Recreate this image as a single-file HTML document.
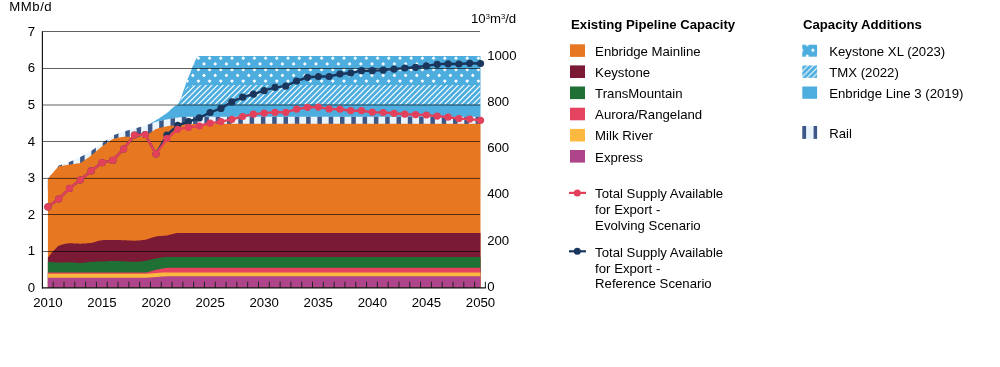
<!DOCTYPE html>
<html><head><meta charset="utf-8"><style>
html,body{margin:0;padding:0;background:#fff;width:1000px;height:367px;overflow:hidden;position:relative;font-family:"Liberation Sans",sans-serif}
</style></head><body>
<svg width="1000" height="367" viewBox="0 0 1000 367" style="position:absolute;left:0;top:0;will-change:transform"><defs><pattern id="dots" patternUnits="userSpaceOnUse" x="8" y="0.95" width="11.2" height="11.45"><rect width="11.2" height="11.45" fill="#4CADDE"/><path d="M-1.8,0 L0,-1.8 L1.8,0 L0,1.8 Z" fill="#fff"/><path d="M9.399999999999999,0 L11.2,-1.8 L13.0,0 L11.2,1.8 Z" fill="#fff"/><path d="M-1.8,11.45 L0,9.649999999999999 L1.8,11.45 L0,13.25 Z" fill="#fff"/><path d="M9.399999999999999,11.45 L11.2,9.649999999999999 L13.0,11.45 L11.2,13.25 Z" fill="#fff"/><path d="M3.8,5.725 L5.6,3.925 L7.3999999999999995,5.725 L5.6,7.5249999999999995 Z" fill="#fff"/></pattern><pattern id="hatch" patternUnits="userSpaceOnUse" width="5.6" height="5.6"><rect width="5.6" height="5.6" fill="#4CADDE"/><path d="M-1.4,1.4 L1.4,-1.4 M0,5.6 L5.6,0 M4.2,7 L7,4.2" stroke="#fff" stroke-width="1.1"/></pattern><pattern id="rail" patternUnits="userSpaceOnUse" x="1.0" y="0" width="11.3" height="20"><rect width="11.3" height="20" fill="#EAF4FC"/><rect width="4.5" height="20" fill="#3D5888"/></pattern><pattern id="dots2" patternUnits="userSpaceOnUse" x="807.3" y="44.6" width="11.2" height="11.45"><rect width="11.2" height="11.45" fill="#4CADDE"/><path d="M-1.8,0 L0,-1.8 L1.8,0 L0,1.8 Z" fill="#fff"/><path d="M9.399999999999999,0 L11.2,-1.8 L13.0,0 L11.2,1.8 Z" fill="#fff"/><path d="M-1.8,11.45 L0,9.649999999999999 L1.8,11.45 L0,13.25 Z" fill="#fff"/><path d="M9.399999999999999,11.45 L11.2,9.649999999999999 L13.0,11.45 L11.2,13.25 Z" fill="#fff"/><path d="M3.8,5.725 L5.6,3.925 L7.3999999999999995,5.725 L5.6,7.5249999999999995 Z" fill="#fff"/></pattern></defs><defs><clipPath id="cKXL"><polygon points="47.9,179.0 48.9,177.7 49.9,176.4 50.8,175.1 51.8,173.9 52.8,172.6 53.8,171.4 54.8,170.2 55.8,169.0 56.7,167.9 57.7,166.8 58.7,165.7 59.7,165.3 60.7,164.9 61.7,164.5 62.6,164.2 63.6,163.9 64.6,163.6 65.6,163.3 66.6,163.0 67.6,162.7 68.5,162.3 69.5,162.0 70.5,161.6 71.5,161.1 72.5,160.7 73.5,160.2 74.4,159.8 75.4,159.3 76.4,158.9 77.4,158.4 78.4,157.9 79.4,157.5 80.3,157.0 81.3,156.5 82.3,155.9 83.3,155.4 84.3,154.9 85.3,154.3 86.2,153.8 87.2,153.2 88.2,152.7 89.2,152.1 90.2,151.6 91.2,151.0 92.1,150.3 93.1,149.6 94.1,148.9 95.1,148.2 96.1,147.5 97.1,146.8 98.0,146.1 99.0,145.4 100.0,144.7 101.0,144.0 102.0,143.3 103.0,142.6 103.9,141.9 104.9,141.2 105.9,140.5 106.9,139.7 107.9,139.0 108.9,138.3 109.8,137.6 110.8,136.9 111.8,136.3 112.8,135.6 113.8,135.2 114.8,134.8 115.7,134.4 116.7,134.1 117.7,133.7 118.7,133.3 119.7,133.0 120.7,132.6 121.6,132.3 122.6,131.9 123.6,131.6 124.6,131.3 125.6,131.0 126.6,130.7 127.5,130.5 128.5,130.2 129.5,129.9 130.5,129.6 131.5,129.3 132.5,129.1 133.4,128.8 134.4,128.5 135.4,128.2 136.4,128.0 137.4,127.7 138.4,127.5 139.3,127.2 140.3,126.9 141.3,126.7 142.3,126.4 143.3,126.1 144.3,125.9 145.2,125.6 146.2,125.2 147.2,124.8 148.2,124.4 149.2,123.9 150.2,123.4 151.1,122.9 152.1,122.4 153.1,121.9 154.1,121.3 155.1,120.8 156.0,120.2 157.0,119.6 158.0,119.0 159.0,118.4 160.0,117.7 161.0,117.1 161.9,116.4 162.9,115.8 163.9,115.1 164.9,114.4 165.9,113.7 166.9,113.0 167.8,112.3 168.8,111.4 169.8,110.5 170.8,109.6 171.8,108.6 172.8,107.7 173.7,106.9 174.7,106.2 175.7,105.6 176.7,105.2 177.7,105.0 178.7,103.3 179.6,101.3 180.6,98.9 181.6,96.3 182.6,93.5 183.6,90.6 184.6,87.7 185.5,84.8 186.5,82.0 187.5,79.4 188.5,77.0 189.5,74.7 190.5,72.2 191.4,69.7 192.4,67.1 193.4,64.7 194.4,62.4 195.4,60.3 196.4,58.6 197.3,57.3 198.3,56.4 199.3,56.1 200.3,56.1 201.3,56.1 202.3,56.1 203.2,56.1 204.2,56.1 205.2,56.1 206.2,56.1 207.2,56.1 208.2,56.1 209.1,56.1 210.1,56.1 211.1,56.1 212.1,56.1 213.1,56.1 214.1,56.1 215.0,56.1 216.0,56.1 217.0,56.1 218.0,56.1 219.0,56.1 220.0,56.1 220.9,56.1 221.9,56.1 222.9,56.1 223.9,56.1 224.9,56.1 225.9,56.1 226.8,56.1 227.8,56.1 228.8,56.1 229.8,56.1 230.8,56.1 231.8,56.1 232.7,56.1 233.7,56.1 234.7,56.1 235.7,56.1 236.7,56.1 237.7,56.1 238.6,56.1 239.6,56.1 240.6,56.1 241.6,56.1 242.6,56.1 243.6,56.1 244.5,56.1 245.5,56.1 246.5,56.1 247.5,56.1 248.5,56.1 249.5,56.1 250.4,56.1 251.4,56.1 252.4,56.1 253.4,56.1 254.4,56.1 255.4,56.1 256.3,56.1 257.3,56.1 258.3,56.1 259.3,56.1 260.3,56.1 261.3,56.1 262.2,56.1 263.2,56.1 264.2,56.1 265.2,56.1 266.2,56.1 267.1,56.1 268.1,56.1 269.1,56.1 270.1,56.1 271.1,56.1 272.1,56.1 273.0,56.1 274.0,56.1 275.0,56.1 276.0,56.1 277.0,56.1 278.0,56.1 278.9,56.1 279.9,56.1 280.9,56.1 281.9,56.1 282.9,56.1 283.9,56.1 284.8,56.1 285.8,56.1 286.8,56.1 287.8,56.1 288.8,56.1 289.8,56.1 290.7,56.1 291.7,56.1 292.7,56.1 293.7,56.1 294.7,56.1 295.7,56.1 296.6,56.1 297.6,56.1 298.6,56.1 299.6,56.1 300.6,56.1 301.6,56.1 302.5,56.1 303.5,56.1 304.5,56.1 305.5,56.1 306.5,56.1 307.5,56.1 308.4,56.1 309.4,56.1 310.4,56.1 311.4,56.1 312.4,56.1 313.4,56.1 314.3,56.1 315.3,56.1 316.3,56.1 317.3,56.1 318.3,56.1 319.3,56.1 320.2,56.1 321.2,56.1 322.2,56.1 323.2,56.1 324.2,56.1 325.2,56.1 326.1,56.1 327.1,56.1 328.1,56.1 329.1,56.1 330.1,56.1 331.1,56.1 332.0,56.1 333.0,56.1 334.0,56.1 335.0,56.1 336.0,56.1 337.0,56.1 337.9,56.1 338.9,56.1 339.9,56.1 340.9,56.1 341.9,56.1 342.9,56.1 343.8,56.1 344.8,56.1 345.8,56.1 346.8,56.1 347.8,56.1 348.8,56.1 349.7,56.1 350.7,56.1 351.7,56.1 352.7,56.1 353.7,56.1 354.7,56.1 355.6,56.1 356.6,56.1 357.6,56.1 358.6,56.1 359.6,56.1 360.6,56.1 361.5,56.1 362.5,56.1 363.5,56.1 364.5,56.1 365.5,56.1 366.5,56.1 367.4,56.1 368.4,56.1 369.4,56.1 370.4,56.1 371.4,56.1 372.3,56.1 373.3,56.1 374.3,56.1 375.3,56.1 376.3,56.1 377.3,56.1 378.2,56.1 379.2,56.1 380.2,56.1 381.2,56.1 382.2,56.1 383.2,56.1 384.1,56.1 385.1,56.1 386.1,56.1 387.1,56.1 388.1,56.1 389.1,56.1 390.0,56.1 391.0,56.1 392.0,56.1 393.0,56.1 394.0,56.1 395.0,56.1 395.9,56.1 396.9,56.1 397.9,56.1 398.9,56.1 399.9,56.1 400.9,56.1 401.8,56.1 402.8,56.1 403.8,56.1 404.8,56.1 405.8,56.1 406.8,56.1 407.7,56.1 408.7,56.1 409.7,56.1 410.7,56.1 411.7,56.1 412.7,56.1 413.6,56.1 414.6,56.1 415.6,56.1 416.6,56.1 417.6,56.1 418.6,56.1 419.5,56.1 420.5,56.1 421.5,56.1 422.5,56.1 423.5,56.1 424.5,56.1 425.4,56.1 426.4,56.1 427.4,56.1 428.4,56.1 429.4,56.1 430.4,56.1 431.3,56.1 432.3,56.1 433.3,56.1 434.3,56.1 435.3,56.1 436.3,56.1 437.2,56.1 438.2,56.1 439.2,56.1 440.2,56.1 441.2,56.1 442.2,56.1 443.1,56.1 444.1,56.1 445.1,56.1 446.1,56.1 447.1,56.1 448.1,56.1 449.0,56.1 450.0,56.1 451.0,56.1 452.0,56.1 453.0,56.1 454.0,56.1 454.9,56.1 455.9,56.1 456.9,56.1 457.9,56.1 458.9,56.1 459.9,56.1 460.8,56.1 461.8,56.1 462.8,56.1 463.8,56.1 464.8,56.1 465.8,56.1 466.7,56.1 467.7,56.1 468.7,56.1 469.7,56.1 470.7,56.1 471.7,56.1 472.6,56.1 473.6,56.1 474.6,56.1 475.6,56.1 476.6,56.1 477.6,56.1 478.5,56.1 479.5,56.1 480.5,56.1 480.5,86.0 479.5,86.0 478.5,86.0 477.6,86.0 476.6,86.0 475.6,86.0 474.6,86.0 473.6,86.0 472.6,86.0 471.7,86.0 470.7,86.0 469.7,86.0 468.7,86.0 467.7,86.0 466.7,86.0 465.8,86.0 464.8,86.0 463.8,86.0 462.8,86.0 461.8,86.0 460.8,86.0 459.9,86.0 458.9,86.0 457.9,86.0 456.9,86.0 455.9,86.0 454.9,86.0 454.0,86.0 453.0,86.0 452.0,86.0 451.0,86.0 450.0,86.0 449.0,86.0 448.1,86.0 447.1,86.0 446.1,86.0 445.1,86.0 444.1,86.0 443.1,86.0 442.2,86.0 441.2,86.0 440.2,86.0 439.2,86.0 438.2,86.0 437.2,86.0 436.3,86.0 435.3,86.0 434.3,86.0 433.3,86.0 432.3,86.0 431.3,86.0 430.4,86.0 429.4,86.0 428.4,86.0 427.4,86.0 426.4,86.0 425.4,86.0 424.5,86.0 423.5,86.0 422.5,86.0 421.5,86.0 420.5,86.0 419.5,86.0 418.6,86.0 417.6,86.0 416.6,86.0 415.6,86.0 414.6,86.0 413.6,86.0 412.7,86.0 411.7,86.0 410.7,86.0 409.7,86.0 408.7,86.0 407.7,86.0 406.8,86.0 405.8,86.0 404.8,86.0 403.8,86.0 402.8,86.0 401.8,86.0 400.9,86.0 399.9,86.0 398.9,86.0 397.9,86.0 396.9,86.0 395.9,86.0 395.0,86.0 394.0,86.0 393.0,86.0 392.0,86.0 391.0,86.0 390.0,86.0 389.1,86.0 388.1,86.0 387.1,86.0 386.1,86.0 385.1,86.0 384.1,86.0 383.2,86.0 382.2,86.0 381.2,86.0 380.2,86.0 379.2,86.0 378.2,86.0 377.3,86.0 376.3,86.0 375.3,86.0 374.3,86.0 373.3,86.0 372.3,86.0 371.4,86.0 370.4,86.0 369.4,86.0 368.4,86.0 367.4,86.0 366.5,86.0 365.5,86.0 364.5,86.0 363.5,86.0 362.5,86.0 361.5,86.0 360.6,86.0 359.6,86.0 358.6,86.0 357.6,86.0 356.6,86.0 355.6,86.0 354.7,86.0 353.7,86.0 352.7,86.0 351.7,86.0 350.7,86.0 349.7,86.0 348.8,86.0 347.8,86.0 346.8,86.0 345.8,86.0 344.8,86.0 343.8,86.0 342.9,86.0 341.9,86.0 340.9,86.0 339.9,86.0 338.9,86.0 337.9,86.0 337.0,86.0 336.0,86.0 335.0,86.0 334.0,86.0 333.0,86.0 332.0,86.0 331.1,86.0 330.1,86.0 329.1,86.0 328.1,86.0 327.1,86.0 326.1,86.0 325.2,86.0 324.2,86.0 323.2,86.0 322.2,86.0 321.2,86.0 320.2,86.0 319.3,86.0 318.3,86.0 317.3,86.0 316.3,86.0 315.3,86.0 314.3,86.0 313.4,86.0 312.4,86.0 311.4,86.0 310.4,86.0 309.4,86.0 308.4,86.0 307.5,86.0 306.5,86.0 305.5,86.0 304.5,86.0 303.5,86.0 302.5,86.0 301.6,86.0 300.6,86.0 299.6,86.0 298.6,86.0 297.6,86.0 296.6,86.0 295.7,86.0 294.7,86.0 293.7,86.0 292.7,86.0 291.7,86.0 290.7,86.0 289.8,86.0 288.8,86.0 287.8,86.0 286.8,86.0 285.8,86.0 284.8,86.0 283.9,86.0 282.9,86.0 281.9,86.0 280.9,86.0 279.9,86.0 278.9,86.0 278.0,86.0 277.0,86.0 276.0,86.0 275.0,86.0 274.0,86.0 273.0,86.0 272.1,86.0 271.1,86.0 270.1,86.0 269.1,86.0 268.1,86.0 267.1,86.0 266.2,86.0 265.2,86.0 264.2,86.0 263.2,86.0 262.2,86.0 261.3,86.0 260.3,86.0 259.3,86.0 258.3,86.0 257.3,86.0 256.3,86.0 255.4,86.0 254.4,86.0 253.4,86.0 252.4,86.0 251.4,86.0 250.4,86.0 249.5,86.0 248.5,86.0 247.5,86.0 246.5,86.0 245.5,86.0 244.5,86.0 243.6,86.0 242.6,86.0 241.6,86.0 240.6,86.0 239.6,86.0 238.6,86.0 237.7,86.0 236.7,86.0 235.7,86.0 234.7,86.0 233.7,86.0 232.7,86.0 231.8,86.0 230.8,86.0 229.8,86.0 228.8,86.0 227.8,86.0 226.8,86.0 225.9,86.0 224.9,86.0 223.9,86.0 222.9,86.0 221.9,86.0 220.9,86.0 220.0,86.0 219.0,86.0 218.0,86.0 217.0,86.0 216.0,86.0 215.0,86.0 214.1,86.0 213.1,86.0 212.1,86.0 211.1,86.0 210.1,86.0 209.1,86.0 208.2,86.0 207.2,86.0 206.2,86.0 205.2,86.0 204.2,86.1 203.2,86.1 202.3,86.1 201.3,86.1 200.3,86.2 199.3,86.2 198.3,86.2 197.3,86.3 196.4,86.4 195.4,86.4 194.4,86.5 193.4,86.6 192.4,86.8 191.4,86.9 190.5,87.1 189.5,87.3 188.5,87.5 187.5,88.0 186.5,89.1 185.5,90.5 184.6,92.3 183.6,94.4 182.6,96.5 181.6,98.7 180.6,100.8 179.6,102.4 178.7,103.9 177.7,105.0 176.7,105.2 175.7,105.6 174.7,106.2 173.7,106.9 172.8,107.7 171.8,108.6 170.8,109.6 169.8,110.5 168.8,111.4 167.8,112.3 166.9,113.0 165.9,113.7 164.9,114.4 163.9,115.1 162.9,115.8 161.9,116.4 161.0,117.1 160.0,117.7 159.0,118.4 158.0,119.0 157.0,119.6 156.0,120.2 155.1,120.8 154.1,121.3 153.1,121.9 152.1,122.4 151.1,122.9 150.2,123.4 149.2,123.9 148.2,124.4 147.2,124.8 146.2,125.2 145.2,125.6 144.3,125.9 143.3,126.1 142.3,126.4 141.3,126.7 140.3,126.9 139.3,127.2 138.4,127.5 137.4,127.7 136.4,128.0 135.4,128.2 134.4,128.5 133.4,128.8 132.5,129.1 131.5,129.3 130.5,129.6 129.5,129.9 128.5,130.2 127.5,130.5 126.6,130.7 125.6,131.0 124.6,131.3 123.6,131.6 122.6,131.9 121.6,132.3 120.7,132.6 119.7,133.0 118.7,133.3 117.7,133.7 116.7,134.1 115.7,134.4 114.8,134.8 113.8,135.2 112.8,135.6 111.8,136.3 110.8,136.9 109.8,137.6 108.9,138.3 107.9,139.0 106.9,139.7 105.9,140.5 104.9,141.2 103.9,141.9 103.0,142.6 102.0,143.3 101.0,144.0 100.0,144.7 99.0,145.4 98.0,146.1 97.1,146.8 96.1,147.5 95.1,148.2 94.1,148.9 93.1,149.6 92.1,150.3 91.2,151.0 90.2,151.6 89.2,152.1 88.2,152.7 87.2,153.2 86.2,153.8 85.3,154.3 84.3,154.9 83.3,155.4 82.3,155.9 81.3,156.5 80.3,157.0 79.4,157.5 78.4,157.9 77.4,158.4 76.4,158.9 75.4,159.3 74.4,159.8 73.5,160.2 72.5,160.7 71.5,161.1 70.5,161.6 69.5,162.0 68.5,162.3 67.6,162.7 66.6,163.0 65.6,163.3 64.6,163.6 63.6,163.9 62.6,164.2 61.7,164.5 60.7,164.9 59.7,165.3 58.7,165.7 57.7,166.8 56.7,167.9 55.8,169.0 54.8,170.2 53.8,171.4 52.8,172.6 51.8,173.9 50.8,175.1 49.9,176.4 48.9,177.7 47.9,179.0"/></clipPath><clipPath id="cTMX"><polygon points="47.9,179.0 48.9,177.7 49.9,176.4 50.8,175.1 51.8,173.9 52.8,172.6 53.8,171.4 54.8,170.2 55.8,169.0 56.7,167.9 57.7,166.8 58.7,165.7 59.7,165.3 60.7,164.9 61.7,164.5 62.6,164.2 63.6,163.9 64.6,163.6 65.6,163.3 66.6,163.0 67.6,162.7 68.5,162.3 69.5,162.0 70.5,161.6 71.5,161.1 72.5,160.7 73.5,160.2 74.4,159.8 75.4,159.3 76.4,158.9 77.4,158.4 78.4,157.9 79.4,157.5 80.3,157.0 81.3,156.5 82.3,155.9 83.3,155.4 84.3,154.9 85.3,154.3 86.2,153.8 87.2,153.2 88.2,152.7 89.2,152.1 90.2,151.6 91.2,151.0 92.1,150.3 93.1,149.6 94.1,148.9 95.1,148.2 96.1,147.5 97.1,146.8 98.0,146.1 99.0,145.4 100.0,144.7 101.0,144.0 102.0,143.3 103.0,142.6 103.9,141.9 104.9,141.2 105.9,140.5 106.9,139.7 107.9,139.0 108.9,138.3 109.8,137.6 110.8,136.9 111.8,136.3 112.8,135.6 113.8,135.2 114.8,134.8 115.7,134.4 116.7,134.1 117.7,133.7 118.7,133.3 119.7,133.0 120.7,132.6 121.6,132.3 122.6,131.9 123.6,131.6 124.6,131.3 125.6,131.0 126.6,130.7 127.5,130.5 128.5,130.2 129.5,129.9 130.5,129.6 131.5,129.3 132.5,129.1 133.4,128.8 134.4,128.5 135.4,128.2 136.4,128.0 137.4,127.7 138.4,127.5 139.3,127.2 140.3,126.9 141.3,126.7 142.3,126.4 143.3,126.1 144.3,125.9 145.2,125.6 146.2,125.2 147.2,124.8 148.2,124.4 149.2,123.9 150.2,123.4 151.1,122.9 152.1,122.4 153.1,121.9 154.1,121.3 155.1,120.8 156.0,120.2 157.0,119.6 158.0,119.0 159.0,118.4 160.0,117.7 161.0,117.1 161.9,116.4 162.9,115.8 163.9,115.1 164.9,114.4 165.9,113.7 166.9,113.0 167.8,112.3 168.8,111.4 169.8,110.5 170.8,109.6 171.8,108.6 172.8,107.7 173.7,106.9 174.7,106.2 175.7,105.6 176.7,105.2 177.7,105.0 178.7,103.6 179.6,101.8 180.6,99.9 181.6,97.7 182.6,95.5 183.6,93.4 184.6,91.3 185.5,89.5 186.5,88.1 187.5,87.0 188.5,86.5 189.5,86.3 190.5,86.1 191.4,85.9 192.4,85.8 193.4,85.6 194.4,85.5 195.4,85.4 196.4,85.4 197.3,85.3 198.3,85.2 199.3,85.2 200.3,85.2 201.3,85.1 202.3,85.1 203.2,85.1 204.2,85.1 205.2,85.0 206.2,85.0 207.2,85.0 208.2,85.0 209.1,85.0 210.1,85.0 211.1,85.0 212.1,85.0 213.1,85.0 214.1,85.0 215.0,85.0 216.0,85.0 217.0,85.0 218.0,85.0 219.0,85.0 220.0,85.0 220.9,85.0 221.9,85.0 222.9,85.0 223.9,85.0 224.9,85.0 225.9,85.0 226.8,85.0 227.8,85.0 228.8,85.0 229.8,85.0 230.8,85.0 231.8,85.0 232.7,85.0 233.7,85.0 234.7,85.0 235.7,85.0 236.7,85.0 237.7,85.0 238.6,85.0 239.6,85.0 240.6,85.0 241.6,85.0 242.6,85.0 243.6,85.0 244.5,85.0 245.5,85.0 246.5,85.0 247.5,85.0 248.5,85.0 249.5,85.0 250.4,85.0 251.4,85.0 252.4,85.0 253.4,85.0 254.4,85.0 255.4,85.0 256.3,85.0 257.3,85.0 258.3,85.0 259.3,85.0 260.3,85.0 261.3,85.0 262.2,85.0 263.2,85.0 264.2,85.0 265.2,85.0 266.2,85.0 267.1,85.0 268.1,85.0 269.1,85.0 270.1,85.0 271.1,85.0 272.1,85.0 273.0,85.0 274.0,85.0 275.0,85.0 276.0,85.0 277.0,85.0 278.0,85.0 278.9,85.0 279.9,85.0 280.9,85.0 281.9,85.0 282.9,85.0 283.9,85.0 284.8,85.0 285.8,85.0 286.8,85.0 287.8,85.0 288.8,85.0 289.8,85.0 290.7,85.0 291.7,85.0 292.7,85.0 293.7,85.0 294.7,85.0 295.7,85.0 296.6,85.0 297.6,85.0 298.6,85.0 299.6,85.0 300.6,85.0 301.6,85.0 302.5,85.0 303.5,85.0 304.5,85.0 305.5,85.0 306.5,85.0 307.5,85.0 308.4,85.0 309.4,85.0 310.4,85.0 311.4,85.0 312.4,85.0 313.4,85.0 314.3,85.0 315.3,85.0 316.3,85.0 317.3,85.0 318.3,85.0 319.3,85.0 320.2,85.0 321.2,85.0 322.2,85.0 323.2,85.0 324.2,85.0 325.2,85.0 326.1,85.0 327.1,85.0 328.1,85.0 329.1,85.0 330.1,85.0 331.1,85.0 332.0,85.0 333.0,85.0 334.0,85.0 335.0,85.0 336.0,85.0 337.0,85.0 337.9,85.0 338.9,85.0 339.9,85.0 340.9,85.0 341.9,85.0 342.9,85.0 343.8,85.0 344.8,85.0 345.8,85.0 346.8,85.0 347.8,85.0 348.8,85.0 349.7,85.0 350.7,85.0 351.7,85.0 352.7,85.0 353.7,85.0 354.7,85.0 355.6,85.0 356.6,85.0 357.6,85.0 358.6,85.0 359.6,85.0 360.6,85.0 361.5,85.0 362.5,85.0 363.5,85.0 364.5,85.0 365.5,85.0 366.5,85.0 367.4,85.0 368.4,85.0 369.4,85.0 370.4,85.0 371.4,85.0 372.3,85.0 373.3,85.0 374.3,85.0 375.3,85.0 376.3,85.0 377.3,85.0 378.2,85.0 379.2,85.0 380.2,85.0 381.2,85.0 382.2,85.0 383.2,85.0 384.1,85.0 385.1,85.0 386.1,85.0 387.1,85.0 388.1,85.0 389.1,85.0 390.0,85.0 391.0,85.0 392.0,85.0 393.0,85.0 394.0,85.0 395.0,85.0 395.9,85.0 396.9,85.0 397.9,85.0 398.9,85.0 399.9,85.0 400.9,85.0 401.8,85.0 402.8,85.0 403.8,85.0 404.8,85.0 405.8,85.0 406.8,85.0 407.7,85.0 408.7,85.0 409.7,85.0 410.7,85.0 411.7,85.0 412.7,85.0 413.6,85.0 414.6,85.0 415.6,85.0 416.6,85.0 417.6,85.0 418.6,85.0 419.5,85.0 420.5,85.0 421.5,85.0 422.5,85.0 423.5,85.0 424.5,85.0 425.4,85.0 426.4,85.0 427.4,85.0 428.4,85.0 429.4,85.0 430.4,85.0 431.3,85.0 432.3,85.0 433.3,85.0 434.3,85.0 435.3,85.0 436.3,85.0 437.2,85.0 438.2,85.0 439.2,85.0 440.2,85.0 441.2,85.0 442.2,85.0 443.1,85.0 444.1,85.0 445.1,85.0 446.1,85.0 447.1,85.0 448.1,85.0 449.0,85.0 450.0,85.0 451.0,85.0 452.0,85.0 453.0,85.0 454.0,85.0 454.9,85.0 455.9,85.0 456.9,85.0 457.9,85.0 458.9,85.0 459.9,85.0 460.8,85.0 461.8,85.0 462.8,85.0 463.8,85.0 464.8,85.0 465.8,85.0 466.7,85.0 467.7,85.0 468.7,85.0 469.7,85.0 470.7,85.0 471.7,85.0 472.6,85.0 473.6,85.0 474.6,85.0 475.6,85.0 476.6,85.0 477.6,85.0 478.5,85.0 479.5,85.0 480.5,85.0 480.5,105.5 479.5,105.5 478.5,105.5 477.6,105.5 476.6,105.5 475.6,105.5 474.6,105.5 473.6,105.5 472.6,105.5 471.7,105.5 470.7,105.5 469.7,105.5 468.7,105.5 467.7,105.5 466.7,105.5 465.8,105.5 464.8,105.5 463.8,105.5 462.8,105.5 461.8,105.5 460.8,105.5 459.9,105.5 458.9,105.5 457.9,105.5 456.9,105.5 455.9,105.5 454.9,105.5 454.0,105.5 453.0,105.5 452.0,105.5 451.0,105.5 450.0,105.5 449.0,105.5 448.1,105.5 447.1,105.5 446.1,105.5 445.1,105.5 444.1,105.5 443.1,105.5 442.2,105.5 441.2,105.5 440.2,105.5 439.2,105.5 438.2,105.5 437.2,105.5 436.3,105.5 435.3,105.5 434.3,105.5 433.3,105.5 432.3,105.5 431.3,105.5 430.4,105.5 429.4,105.5 428.4,105.5 427.4,105.5 426.4,105.5 425.4,105.5 424.5,105.5 423.5,105.5 422.5,105.5 421.5,105.5 420.5,105.5 419.5,105.5 418.6,105.5 417.6,105.5 416.6,105.5 415.6,105.5 414.6,105.5 413.6,105.5 412.7,105.5 411.7,105.5 410.7,105.5 409.7,105.5 408.7,105.5 407.7,105.5 406.8,105.5 405.8,105.5 404.8,105.5 403.8,105.5 402.8,105.5 401.8,105.5 400.9,105.5 399.9,105.5 398.9,105.5 397.9,105.5 396.9,105.5 395.9,105.5 395.0,105.5 394.0,105.5 393.0,105.5 392.0,105.5 391.0,105.5 390.0,105.5 389.1,105.5 388.1,105.5 387.1,105.5 386.1,105.5 385.1,105.5 384.1,105.5 383.2,105.5 382.2,105.5 381.2,105.5 380.2,105.5 379.2,105.5 378.2,105.5 377.3,105.5 376.3,105.5 375.3,105.5 374.3,105.5 373.3,105.5 372.3,105.5 371.4,105.5 370.4,105.5 369.4,105.5 368.4,105.5 367.4,105.5 366.5,105.5 365.5,105.5 364.5,105.5 363.5,105.5 362.5,105.5 361.5,105.5 360.6,105.5 359.6,105.5 358.6,105.5 357.6,105.5 356.6,105.5 355.6,105.5 354.7,105.5 353.7,105.5 352.7,105.5 351.7,105.5 350.7,105.5 349.7,105.5 348.8,105.5 347.8,105.5 346.8,105.5 345.8,105.5 344.8,105.5 343.8,105.5 342.9,105.5 341.9,105.5 340.9,105.5 339.9,105.5 338.9,105.5 337.9,105.5 337.0,105.5 336.0,105.5 335.0,105.5 334.0,105.5 333.0,105.5 332.0,105.5 331.1,105.5 330.1,105.5 329.1,105.5 328.1,105.5 327.1,105.5 326.1,105.5 325.2,105.5 324.2,105.5 323.2,105.5 322.2,105.5 321.2,105.5 320.2,105.5 319.3,105.5 318.3,105.5 317.3,105.5 316.3,105.5 315.3,105.5 314.3,105.5 313.4,105.5 312.4,105.5 311.4,105.5 310.4,105.5 309.4,105.5 308.4,105.5 307.5,105.5 306.5,105.5 305.5,105.5 304.5,105.5 303.5,105.5 302.5,105.5 301.6,105.5 300.6,105.5 299.6,105.5 298.6,105.5 297.6,105.5 296.6,105.5 295.7,105.5 294.7,105.5 293.7,105.5 292.7,105.5 291.7,105.5 290.7,105.5 289.8,105.5 288.8,105.5 287.8,105.5 286.8,105.5 285.8,105.5 284.8,105.5 283.9,105.5 282.9,105.5 281.9,105.5 280.9,105.5 279.9,105.5 278.9,105.5 278.0,105.5 277.0,105.5 276.0,105.5 275.0,105.5 274.0,105.5 273.0,105.5 272.1,105.5 271.1,105.5 270.1,105.5 269.1,105.5 268.1,105.5 267.1,105.5 266.2,105.5 265.2,105.5 264.2,105.5 263.2,105.5 262.2,105.5 261.3,105.5 260.3,105.5 259.3,105.5 258.3,105.5 257.3,105.5 256.3,105.5 255.4,105.5 254.4,105.5 253.4,105.5 252.4,105.5 251.4,105.5 250.4,105.5 249.5,105.5 248.5,105.5 247.5,105.5 246.5,105.5 245.5,105.5 244.5,105.5 243.6,105.5 242.6,105.5 241.6,105.5 240.6,105.5 239.6,105.5 238.6,105.5 237.7,105.5 236.7,105.5 235.7,105.5 234.7,105.5 233.7,105.5 232.7,105.5 231.8,105.5 230.8,105.5 229.8,105.5 228.8,105.5 227.8,105.5 226.8,105.5 225.9,105.5 224.9,105.5 223.9,105.5 222.9,105.5 221.9,105.5 220.9,105.5 220.0,105.5 219.0,105.5 218.0,105.5 217.0,105.5 216.0,105.5 215.0,105.5 214.1,105.5 213.1,105.5 212.1,105.5 211.1,105.5 210.1,105.5 209.1,105.5 208.2,105.5 207.2,105.5 206.2,105.5 205.2,105.5 204.2,105.5 203.2,105.5 202.3,105.5 201.3,105.5 200.3,105.5 199.3,105.5 198.3,105.5 197.3,105.5 196.4,105.5 195.4,105.5 194.4,105.5 193.4,105.5 192.4,105.5 191.4,105.5 190.5,105.5 189.5,105.5 188.5,105.5 187.5,105.5 186.5,105.5 185.5,105.5 184.6,105.6 183.6,105.6 182.6,105.6 181.6,105.7 180.6,105.8 179.6,105.8 178.7,105.9 177.7,105.0 176.7,105.2 175.7,105.6 174.7,106.2 173.7,106.9 172.8,107.7 171.8,108.6 170.8,109.6 169.8,110.5 168.8,111.4 167.8,112.3 166.9,113.0 165.9,113.7 164.9,114.4 163.9,115.1 162.9,115.8 161.9,116.4 161.0,117.1 160.0,117.7 159.0,118.4 158.0,119.0 157.0,119.6 156.0,120.2 155.1,120.8 154.1,121.3 153.1,121.9 152.1,122.4 151.1,122.9 150.2,123.4 149.2,123.9 148.2,124.4 147.2,124.8 146.2,125.2 145.2,125.6 144.3,125.9 143.3,126.1 142.3,126.4 141.3,126.7 140.3,126.9 139.3,127.2 138.4,127.5 137.4,127.7 136.4,128.0 135.4,128.2 134.4,128.5 133.4,128.8 132.5,129.1 131.5,129.3 130.5,129.6 129.5,129.9 128.5,130.2 127.5,130.5 126.6,130.7 125.6,131.0 124.6,131.3 123.6,131.6 122.6,131.9 121.6,132.3 120.7,132.6 119.7,133.0 118.7,133.3 117.7,133.7 116.7,134.1 115.7,134.4 114.8,134.8 113.8,135.2 112.8,135.6 111.8,136.3 110.8,136.9 109.8,137.6 108.9,138.3 107.9,139.0 106.9,139.7 105.9,140.5 104.9,141.2 103.9,141.9 103.0,142.6 102.0,143.3 101.0,144.0 100.0,144.7 99.0,145.4 98.0,146.1 97.1,146.8 96.1,147.5 95.1,148.2 94.1,148.9 93.1,149.6 92.1,150.3 91.2,151.0 90.2,151.6 89.2,152.1 88.2,152.7 87.2,153.2 86.2,153.8 85.3,154.3 84.3,154.9 83.3,155.4 82.3,155.9 81.3,156.5 80.3,157.0 79.4,157.5 78.4,157.9 77.4,158.4 76.4,158.9 75.4,159.3 74.4,159.8 73.5,160.2 72.5,160.7 71.5,161.1 70.5,161.6 69.5,162.0 68.5,162.3 67.6,162.7 66.6,163.0 65.6,163.3 64.6,163.6 63.6,163.9 62.6,164.2 61.7,164.5 60.7,164.9 59.7,165.3 58.7,165.7 57.7,166.8 56.7,167.9 55.8,169.0 54.8,170.2 53.8,171.4 52.8,172.6 51.8,173.9 50.8,175.1 49.9,176.4 48.9,177.7 47.9,179.0"/></clipPath><clipPath id="cRAIL"><polygon points="47.9,179.0 48.9,177.7 49.9,176.4 50.8,175.1 51.8,173.9 52.8,172.6 53.8,171.4 54.8,170.2 55.8,169.0 56.7,167.9 57.7,166.8 58.7,165.7 59.7,165.3 60.7,164.9 61.7,164.5 62.6,164.2 63.6,163.9 64.6,163.6 65.6,163.3 66.6,163.0 67.6,162.7 68.5,162.3 69.5,162.0 70.5,161.6 71.5,161.1 72.5,160.7 73.5,160.2 74.4,159.8 75.4,159.3 76.4,158.9 77.4,158.4 78.4,157.9 79.4,157.5 80.3,157.0 81.3,156.5 82.3,155.9 83.3,155.4 84.3,154.9 85.3,154.3 86.2,153.8 87.2,153.2 88.2,152.7 89.2,152.1 90.2,151.6 91.2,151.0 92.1,150.3 93.1,149.6 94.1,148.9 95.1,148.2 96.1,147.5 97.1,146.8 98.0,146.1 99.0,145.4 100.0,144.7 101.0,144.0 102.0,143.3 103.0,142.6 103.9,141.9 104.9,141.2 105.9,140.5 106.9,139.7 107.9,139.0 108.9,138.3 109.8,137.6 110.8,136.9 111.8,136.3 112.8,135.6 113.8,135.2 114.8,134.8 115.7,134.4 116.7,134.1 117.7,133.7 118.7,133.3 119.7,133.0 120.7,132.6 121.6,132.3 122.6,131.9 123.6,131.6 124.6,131.3 125.6,131.0 126.6,130.7 127.5,130.5 128.5,130.2 129.5,129.9 130.5,129.6 131.5,129.3 132.5,129.1 133.4,128.8 134.4,128.5 135.4,128.2 136.4,128.0 137.4,127.7 138.4,127.5 139.3,127.2 140.3,126.9 141.3,126.7 142.3,126.4 143.3,126.1 144.3,125.9 145.2,125.6 146.2,125.3 147.2,124.9 148.2,124.6 149.2,124.2 150.2,123.9 151.1,123.5 152.1,123.2 153.1,122.8 154.1,122.5 155.1,122.1 156.0,121.8 157.0,121.6 158.0,121.3 159.0,121.1 160.0,120.9 161.0,120.7 161.9,120.5 162.9,120.2 163.9,120.0 164.9,119.8 165.9,119.6 166.9,119.4 167.8,119.2 168.8,119.0 169.8,118.9 170.8,118.7 171.8,118.5 172.8,118.3 173.7,118.2 174.7,118.0 175.7,117.8 176.7,117.7 177.7,117.5 178.7,117.4 179.6,117.3 180.6,117.2 181.6,117.2 182.6,117.1 183.6,117.0 184.6,116.9 185.5,116.9 186.5,116.8 187.5,116.8 188.5,116.7 189.5,116.7 190.5,116.7 191.4,116.7 192.4,116.7 193.4,116.7 194.4,116.7 195.4,116.7 196.4,116.7 197.3,116.7 198.3,116.7 199.3,116.7 200.3,116.7 201.3,116.7 202.3,116.7 203.2,116.7 204.2,116.7 205.2,116.7 206.2,116.7 207.2,116.7 208.2,116.7 209.1,116.7 210.1,116.7 211.1,116.7 212.1,116.7 213.1,116.7 214.1,116.7 215.0,116.7 216.0,116.7 217.0,116.7 218.0,116.7 219.0,116.7 220.0,116.7 220.9,116.7 221.9,116.7 222.9,116.7 223.9,116.7 224.9,116.7 225.9,116.7 226.8,116.7 227.8,116.7 228.8,116.7 229.8,116.7 230.8,116.7 231.8,116.7 232.7,116.7 233.7,116.7 234.7,116.7 235.7,116.7 236.7,116.7 237.7,116.7 238.6,116.7 239.6,116.7 240.6,116.7 241.6,116.7 242.6,116.7 243.6,116.7 244.5,116.7 245.5,116.7 246.5,116.7 247.5,116.7 248.5,116.7 249.5,116.7 250.4,116.7 251.4,116.7 252.4,116.7 253.4,116.7 254.4,116.7 255.4,116.7 256.3,116.7 257.3,116.7 258.3,116.7 259.3,116.7 260.3,116.7 261.3,116.7 262.2,116.7 263.2,116.7 264.2,116.7 265.2,116.7 266.2,116.7 267.1,116.7 268.1,116.7 269.1,116.7 270.1,116.7 271.1,116.7 272.1,116.7 273.0,116.7 274.0,116.7 275.0,116.7 276.0,116.7 277.0,116.7 278.0,116.7 278.9,116.7 279.9,116.7 280.9,116.7 281.9,116.7 282.9,116.7 283.9,116.7 284.8,116.7 285.8,116.7 286.8,116.7 287.8,116.7 288.8,116.7 289.8,116.7 290.7,116.7 291.7,116.7 292.7,116.7 293.7,116.7 294.7,116.7 295.7,116.7 296.6,116.7 297.6,116.7 298.6,116.7 299.6,116.7 300.6,116.7 301.6,116.7 302.5,116.7 303.5,116.7 304.5,116.7 305.5,116.7 306.5,116.7 307.5,116.7 308.4,116.7 309.4,116.7 310.4,116.7 311.4,116.7 312.4,116.7 313.4,116.7 314.3,116.7 315.3,116.7 316.3,116.7 317.3,116.7 318.3,116.7 319.3,116.7 320.2,116.7 321.2,116.7 322.2,116.7 323.2,116.7 324.2,116.7 325.2,116.7 326.1,116.7 327.1,116.7 328.1,116.7 329.1,116.7 330.1,116.7 331.1,116.7 332.0,116.7 333.0,116.7 334.0,116.7 335.0,116.7 336.0,116.7 337.0,116.7 337.9,116.7 338.9,116.7 339.9,116.7 340.9,116.7 341.9,116.7 342.9,116.7 343.8,116.7 344.8,116.7 345.8,116.7 346.8,116.7 347.8,116.7 348.8,116.7 349.7,116.7 350.7,116.7 351.7,116.7 352.7,116.7 353.7,116.7 354.7,116.7 355.6,116.7 356.6,116.7 357.6,116.7 358.6,116.7 359.6,116.7 360.6,116.7 361.5,116.7 362.5,116.7 363.5,116.7 364.5,116.7 365.5,116.7 366.5,116.7 367.4,116.7 368.4,116.7 369.4,116.7 370.4,116.7 371.4,116.7 372.3,116.7 373.3,116.7 374.3,116.7 375.3,116.7 376.3,116.7 377.3,116.7 378.2,116.7 379.2,116.7 380.2,116.7 381.2,116.7 382.2,116.7 383.2,116.7 384.1,116.7 385.1,116.7 386.1,116.7 387.1,116.7 388.1,116.7 389.1,116.7 390.0,116.7 391.0,116.7 392.0,116.7 393.0,116.7 394.0,116.7 395.0,116.7 395.9,116.7 396.9,116.7 397.9,116.7 398.9,116.7 399.9,116.7 400.9,116.7 401.8,116.7 402.8,116.7 403.8,116.7 404.8,116.7 405.8,116.7 406.8,116.7 407.7,116.7 408.7,116.7 409.7,116.7 410.7,116.7 411.7,116.7 412.7,116.7 413.6,116.7 414.6,116.7 415.6,116.7 416.6,116.7 417.6,116.7 418.6,116.7 419.5,116.7 420.5,116.7 421.5,116.7 422.5,116.7 423.5,116.7 424.5,116.7 425.4,116.7 426.4,116.7 427.4,116.7 428.4,116.7 429.4,116.7 430.4,116.7 431.3,116.7 432.3,116.7 433.3,116.7 434.3,116.7 435.3,116.7 436.3,116.7 437.2,116.7 438.2,116.7 439.2,116.7 440.2,116.7 441.2,116.7 442.2,116.7 443.1,116.7 444.1,116.7 445.1,116.7 446.1,116.7 447.1,116.7 448.1,116.7 449.0,116.7 450.0,116.7 451.0,116.7 452.0,116.7 453.0,116.7 454.0,116.7 454.9,116.7 455.9,116.7 456.9,116.7 457.9,116.7 458.9,116.7 459.9,116.7 460.8,116.7 461.8,116.7 462.8,116.7 463.8,116.7 464.8,116.7 465.8,116.7 466.7,116.7 467.7,116.7 468.7,116.7 469.7,116.7 470.7,116.7 471.7,116.7 472.6,116.7 473.6,116.7 474.6,116.7 475.6,116.7 476.6,116.7 477.6,116.7 478.5,116.7 479.5,116.7 480.5,116.7 480.5,287.8 47.9,287.8"/></clipPath></defs><g clip-path="url(#cKXL)"><rect x="170" y="50" width="315" height="60" fill="#4CADDE"/><path fill="#fff" d="M179.70,52.48L181.60,50.58L183.50,52.48L181.60,54.38ZM190.90,52.48L192.80,50.58L194.70,52.48L192.80,54.38ZM202.10,52.48L204.00,50.58L205.90,52.48L204.00,54.38ZM213.30,52.48L215.20,50.58L217.10,52.48L215.20,54.38ZM224.50,52.48L226.40,50.58L228.30,52.48L226.40,54.38ZM235.70,52.48L237.60,50.58L239.50,52.48L237.60,54.38ZM246.90,52.48L248.80,50.58L250.70,52.48L248.80,54.38ZM258.10,52.48L260.00,50.58L261.90,52.48L260.00,54.38ZM269.30,52.48L271.20,50.58L273.10,52.48L271.20,54.38ZM280.50,52.48L282.40,50.58L284.30,52.48L282.40,54.38ZM291.70,52.48L293.60,50.58L295.50,52.48L293.60,54.38ZM302.90,52.48L304.80,50.58L306.70,52.48L304.80,54.38ZM314.10,52.48L316.00,50.58L317.90,52.48L316.00,54.38ZM325.30,52.48L327.20,50.58L329.10,52.48L327.20,54.38ZM336.50,52.48L338.40,50.58L340.30,52.48L338.40,54.38ZM347.70,52.48L349.60,50.58L351.50,52.48L349.60,54.38ZM358.90,52.48L360.80,50.58L362.70,52.48L360.80,54.38ZM370.10,52.48L372.00,50.58L373.90,52.48L372.00,54.38ZM381.30,52.48L383.20,50.58L385.10,52.48L383.20,54.38ZM392.50,52.48L394.40,50.58L396.30,52.48L394.40,54.38ZM403.70,52.48L405.60,50.58L407.50,52.48L405.60,54.38ZM414.90,52.48L416.80,50.58L418.70,52.48L416.80,54.38ZM426.10,52.48L428.00,50.58L429.90,52.48L428.00,54.38ZM437.30,52.48L439.20,50.58L441.10,52.48L439.20,54.38ZM448.50,52.48L450.40,50.58L452.30,52.48L450.40,54.38ZM459.70,52.48L461.60,50.58L463.50,52.48L461.60,54.38ZM470.90,52.48L472.80,50.58L474.70,52.48L472.80,54.38ZM482.10,52.48L484.00,50.58L485.90,52.48L484.00,54.38ZM174.10,58.20L176.00,56.30L177.90,58.20L176.00,60.10ZM185.30,58.20L187.20,56.30L189.10,58.20L187.20,60.10ZM196.50,58.20L198.40,56.30L200.30,58.20L198.40,60.10ZM207.70,58.20L209.60,56.30L211.50,58.20L209.60,60.10ZM218.90,58.20L220.80,56.30L222.70,58.20L220.80,60.10ZM230.10,58.20L232.00,56.30L233.90,58.20L232.00,60.10ZM241.30,58.20L243.20,56.30L245.10,58.20L243.20,60.10ZM252.50,58.20L254.40,56.30L256.30,58.20L254.40,60.10ZM263.70,58.20L265.60,56.30L267.50,58.20L265.60,60.10ZM274.90,58.20L276.80,56.30L278.70,58.20L276.80,60.10ZM286.10,58.20L288.00,56.30L289.90,58.20L288.00,60.10ZM297.30,58.20L299.20,56.30L301.10,58.20L299.20,60.10ZM308.50,58.20L310.40,56.30L312.30,58.20L310.40,60.10ZM319.70,58.20L321.60,56.30L323.50,58.20L321.60,60.10ZM330.90,58.20L332.80,56.30L334.70,58.20L332.80,60.10ZM342.10,58.20L344.00,56.30L345.90,58.20L344.00,60.10ZM353.30,58.20L355.20,56.30L357.10,58.20L355.20,60.10ZM364.50,58.20L366.40,56.30L368.30,58.20L366.40,60.10ZM375.70,58.20L377.60,56.30L379.50,58.20L377.60,60.10ZM386.90,58.20L388.80,56.30L390.70,58.20L388.80,60.10ZM398.10,58.20L400.00,56.30L401.90,58.20L400.00,60.10ZM409.30,58.20L411.20,56.30L413.10,58.20L411.20,60.10ZM420.50,58.20L422.40,56.30L424.30,58.20L422.40,60.10ZM431.70,58.20L433.60,56.30L435.50,58.20L433.60,60.10ZM442.90,58.20L444.80,56.30L446.70,58.20L444.80,60.10ZM454.10,58.20L456.00,56.30L457.90,58.20L456.00,60.10ZM465.30,58.20L467.20,56.30L469.10,58.20L467.20,60.10ZM476.50,58.20L478.40,56.30L480.30,58.20L478.40,60.10ZM487.70,58.20L489.60,56.30L491.50,58.20L489.60,60.10ZM179.70,63.93L181.60,62.03L183.50,63.93L181.60,65.83ZM190.90,63.93L192.80,62.03L194.70,63.93L192.80,65.83ZM202.10,63.93L204.00,62.03L205.90,63.93L204.00,65.83ZM213.30,63.93L215.20,62.03L217.10,63.93L215.20,65.83ZM224.50,63.93L226.40,62.03L228.30,63.93L226.40,65.83ZM235.70,63.93L237.60,62.03L239.50,63.93L237.60,65.83ZM246.90,63.93L248.80,62.03L250.70,63.93L248.80,65.83ZM258.10,63.93L260.00,62.03L261.90,63.93L260.00,65.83ZM269.30,63.93L271.20,62.03L273.10,63.93L271.20,65.83ZM280.50,63.93L282.40,62.03L284.30,63.93L282.40,65.83ZM291.70,63.93L293.60,62.03L295.50,63.93L293.60,65.83ZM302.90,63.93L304.80,62.03L306.70,63.93L304.80,65.83ZM314.10,63.93L316.00,62.03L317.90,63.93L316.00,65.83ZM325.30,63.93L327.20,62.03L329.10,63.93L327.20,65.83ZM336.50,63.93L338.40,62.03L340.30,63.93L338.40,65.83ZM347.70,63.93L349.60,62.03L351.50,63.93L349.60,65.83ZM358.90,63.93L360.80,62.03L362.70,63.93L360.80,65.83ZM370.10,63.93L372.00,62.03L373.90,63.93L372.00,65.83ZM381.30,63.93L383.20,62.03L385.10,63.93L383.20,65.83ZM392.50,63.93L394.40,62.03L396.30,63.93L394.40,65.83ZM403.70,63.93L405.60,62.03L407.50,63.93L405.60,65.83ZM414.90,63.93L416.80,62.03L418.70,63.93L416.80,65.83ZM426.10,63.93L428.00,62.03L429.90,63.93L428.00,65.83ZM437.30,63.93L439.20,62.03L441.10,63.93L439.20,65.83ZM448.50,63.93L450.40,62.03L452.30,63.93L450.40,65.83ZM459.70,63.93L461.60,62.03L463.50,63.93L461.60,65.83ZM470.90,63.93L472.80,62.03L474.70,63.93L472.80,65.83ZM482.10,63.93L484.00,62.03L485.90,63.93L484.00,65.83ZM174.10,69.65L176.00,67.75L177.90,69.65L176.00,71.55ZM185.30,69.65L187.20,67.75L189.10,69.65L187.20,71.55ZM196.50,69.65L198.40,67.75L200.30,69.65L198.40,71.55ZM207.70,69.65L209.60,67.75L211.50,69.65L209.60,71.55ZM218.90,69.65L220.80,67.75L222.70,69.65L220.80,71.55ZM230.10,69.65L232.00,67.75L233.90,69.65L232.00,71.55ZM241.30,69.65L243.20,67.75L245.10,69.65L243.20,71.55ZM252.50,69.65L254.40,67.75L256.30,69.65L254.40,71.55ZM263.70,69.65L265.60,67.75L267.50,69.65L265.60,71.55ZM274.90,69.65L276.80,67.75L278.70,69.65L276.80,71.55ZM286.10,69.65L288.00,67.75L289.90,69.65L288.00,71.55ZM297.30,69.65L299.20,67.75L301.10,69.65L299.20,71.55ZM308.50,69.65L310.40,67.75L312.30,69.65L310.40,71.55ZM319.70,69.65L321.60,67.75L323.50,69.65L321.60,71.55ZM330.90,69.65L332.80,67.75L334.70,69.65L332.80,71.55ZM342.10,69.65L344.00,67.75L345.90,69.65L344.00,71.55ZM353.30,69.65L355.20,67.75L357.10,69.65L355.20,71.55ZM364.50,69.65L366.40,67.75L368.30,69.65L366.40,71.55ZM375.70,69.65L377.60,67.75L379.50,69.65L377.60,71.55ZM386.90,69.65L388.80,67.75L390.70,69.65L388.80,71.55ZM398.10,69.65L400.00,67.75L401.90,69.65L400.00,71.55ZM409.30,69.65L411.20,67.75L413.10,69.65L411.20,71.55ZM420.50,69.65L422.40,67.75L424.30,69.65L422.40,71.55ZM431.70,69.65L433.60,67.75L435.50,69.65L433.60,71.55ZM442.90,69.65L444.80,67.75L446.70,69.65L444.80,71.55ZM454.10,69.65L456.00,67.75L457.90,69.65L456.00,71.55ZM465.30,69.65L467.20,67.75L469.10,69.65L467.20,71.55ZM476.50,69.65L478.40,67.75L480.30,69.65L478.40,71.55ZM487.70,69.65L489.60,67.75L491.50,69.65L489.60,71.55ZM179.70,75.38L181.60,73.47L183.50,75.38L181.60,77.28ZM190.90,75.38L192.80,73.47L194.70,75.38L192.80,77.28ZM202.10,75.38L204.00,73.47L205.90,75.38L204.00,77.28ZM213.30,75.38L215.20,73.47L217.10,75.38L215.20,77.28ZM224.50,75.38L226.40,73.47L228.30,75.38L226.40,77.28ZM235.70,75.38L237.60,73.47L239.50,75.38L237.60,77.28ZM246.90,75.38L248.80,73.47L250.70,75.38L248.80,77.28ZM258.10,75.38L260.00,73.47L261.90,75.38L260.00,77.28ZM269.30,75.38L271.20,73.47L273.10,75.38L271.20,77.28ZM280.50,75.38L282.40,73.47L284.30,75.38L282.40,77.28ZM291.70,75.38L293.60,73.47L295.50,75.38L293.60,77.28ZM302.90,75.38L304.80,73.47L306.70,75.38L304.80,77.28ZM314.10,75.38L316.00,73.47L317.90,75.38L316.00,77.28ZM325.30,75.38L327.20,73.47L329.10,75.38L327.20,77.28ZM336.50,75.38L338.40,73.47L340.30,75.38L338.40,77.28ZM347.70,75.38L349.60,73.47L351.50,75.38L349.60,77.28ZM358.90,75.38L360.80,73.47L362.70,75.38L360.80,77.28ZM370.10,75.38L372.00,73.47L373.90,75.38L372.00,77.28ZM381.30,75.38L383.20,73.47L385.10,75.38L383.20,77.28ZM392.50,75.38L394.40,73.47L396.30,75.38L394.40,77.28ZM403.70,75.38L405.60,73.47L407.50,75.38L405.60,77.28ZM414.90,75.38L416.80,73.47L418.70,75.38L416.80,77.28ZM426.10,75.38L428.00,73.47L429.90,75.38L428.00,77.28ZM437.30,75.38L439.20,73.47L441.10,75.38L439.20,77.28ZM448.50,75.38L450.40,73.47L452.30,75.38L450.40,77.28ZM459.70,75.38L461.60,73.47L463.50,75.38L461.60,77.28ZM470.90,75.38L472.80,73.47L474.70,75.38L472.80,77.28ZM482.10,75.38L484.00,73.47L485.90,75.38L484.00,77.28ZM174.10,81.10L176.00,79.20L177.90,81.10L176.00,83.00ZM185.30,81.10L187.20,79.20L189.10,81.10L187.20,83.00ZM196.50,81.10L198.40,79.20L200.30,81.10L198.40,83.00ZM207.70,81.10L209.60,79.20L211.50,81.10L209.60,83.00ZM218.90,81.10L220.80,79.20L222.70,81.10L220.80,83.00ZM230.10,81.10L232.00,79.20L233.90,81.10L232.00,83.00ZM241.30,81.10L243.20,79.20L245.10,81.10L243.20,83.00ZM252.50,81.10L254.40,79.20L256.30,81.10L254.40,83.00ZM263.70,81.10L265.60,79.20L267.50,81.10L265.60,83.00ZM274.90,81.10L276.80,79.20L278.70,81.10L276.80,83.00ZM286.10,81.10L288.00,79.20L289.90,81.10L288.00,83.00ZM297.30,81.10L299.20,79.20L301.10,81.10L299.20,83.00ZM308.50,81.10L310.40,79.20L312.30,81.10L310.40,83.00ZM319.70,81.10L321.60,79.20L323.50,81.10L321.60,83.00ZM330.90,81.10L332.80,79.20L334.70,81.10L332.80,83.00ZM342.10,81.10L344.00,79.20L345.90,81.10L344.00,83.00ZM353.30,81.10L355.20,79.20L357.10,81.10L355.20,83.00ZM364.50,81.10L366.40,79.20L368.30,81.10L366.40,83.00ZM375.70,81.10L377.60,79.20L379.50,81.10L377.60,83.00ZM386.90,81.10L388.80,79.20L390.70,81.10L388.80,83.00ZM398.10,81.10L400.00,79.20L401.90,81.10L400.00,83.00ZM409.30,81.10L411.20,79.20L413.10,81.10L411.20,83.00ZM420.50,81.10L422.40,79.20L424.30,81.10L422.40,83.00ZM431.70,81.10L433.60,79.20L435.50,81.10L433.60,83.00ZM442.90,81.10L444.80,79.20L446.70,81.10L444.80,83.00ZM454.10,81.10L456.00,79.20L457.90,81.10L456.00,83.00ZM465.30,81.10L467.20,79.20L469.10,81.10L467.20,83.00ZM476.50,81.10L478.40,79.20L480.30,81.10L478.40,83.00ZM487.70,81.10L489.60,79.20L491.50,81.10L489.60,83.00ZM179.70,86.83L181.60,84.92L183.50,86.83L181.60,88.73ZM190.90,86.83L192.80,84.92L194.70,86.83L192.80,88.73ZM202.10,86.83L204.00,84.92L205.90,86.83L204.00,88.73ZM213.30,86.83L215.20,84.92L217.10,86.83L215.20,88.73ZM224.50,86.83L226.40,84.92L228.30,86.83L226.40,88.73ZM235.70,86.83L237.60,84.92L239.50,86.83L237.60,88.73ZM246.90,86.83L248.80,84.92L250.70,86.83L248.80,88.73ZM258.10,86.83L260.00,84.92L261.90,86.83L260.00,88.73ZM269.30,86.83L271.20,84.92L273.10,86.83L271.20,88.73ZM280.50,86.83L282.40,84.92L284.30,86.83L282.40,88.73ZM291.70,86.83L293.60,84.92L295.50,86.83L293.60,88.73ZM302.90,86.83L304.80,84.92L306.70,86.83L304.80,88.73ZM314.10,86.83L316.00,84.92L317.90,86.83L316.00,88.73ZM325.30,86.83L327.20,84.92L329.10,86.83L327.20,88.73ZM336.50,86.83L338.40,84.92L340.30,86.83L338.40,88.73ZM347.70,86.83L349.60,84.92L351.50,86.83L349.60,88.73ZM358.90,86.83L360.80,84.92L362.70,86.83L360.80,88.73ZM370.10,86.83L372.00,84.92L373.90,86.83L372.00,88.73ZM381.30,86.83L383.20,84.92L385.10,86.83L383.20,88.73ZM392.50,86.83L394.40,84.92L396.30,86.83L394.40,88.73ZM403.70,86.83L405.60,84.92L407.50,86.83L405.60,88.73ZM414.90,86.83L416.80,84.92L418.70,86.83L416.80,88.73ZM426.10,86.83L428.00,84.92L429.90,86.83L428.00,88.73ZM437.30,86.83L439.20,84.92L441.10,86.83L439.20,88.73ZM448.50,86.83L450.40,84.92L452.30,86.83L450.40,88.73ZM459.70,86.83L461.60,84.92L463.50,86.83L461.60,88.73ZM470.90,86.83L472.80,84.92L474.70,86.83L472.80,88.73ZM482.10,86.83L484.00,84.92L485.90,86.83L484.00,88.73ZM174.10,92.55L176.00,90.65L177.90,92.55L176.00,94.45ZM185.30,92.55L187.20,90.65L189.10,92.55L187.20,94.45ZM196.50,92.55L198.40,90.65L200.30,92.55L198.40,94.45ZM207.70,92.55L209.60,90.65L211.50,92.55L209.60,94.45ZM218.90,92.55L220.80,90.65L222.70,92.55L220.80,94.45ZM230.10,92.55L232.00,90.65L233.90,92.55L232.00,94.45ZM241.30,92.55L243.20,90.65L245.10,92.55L243.20,94.45ZM252.50,92.55L254.40,90.65L256.30,92.55L254.40,94.45ZM263.70,92.55L265.60,90.65L267.50,92.55L265.60,94.45ZM274.90,92.55L276.80,90.65L278.70,92.55L276.80,94.45ZM286.10,92.55L288.00,90.65L289.90,92.55L288.00,94.45ZM297.30,92.55L299.20,90.65L301.10,92.55L299.20,94.45ZM308.50,92.55L310.40,90.65L312.30,92.55L310.40,94.45ZM319.70,92.55L321.60,90.65L323.50,92.55L321.60,94.45ZM330.90,92.55L332.80,90.65L334.70,92.55L332.80,94.45ZM342.10,92.55L344.00,90.65L345.90,92.55L344.00,94.45ZM353.30,92.55L355.20,90.65L357.10,92.55L355.20,94.45ZM364.50,92.55L366.40,90.65L368.30,92.55L366.40,94.45ZM375.70,92.55L377.60,90.65L379.50,92.55L377.60,94.45ZM386.90,92.55L388.80,90.65L390.70,92.55L388.80,94.45ZM398.10,92.55L400.00,90.65L401.90,92.55L400.00,94.45ZM409.30,92.55L411.20,90.65L413.10,92.55L411.20,94.45ZM420.50,92.55L422.40,90.65L424.30,92.55L422.40,94.45ZM431.70,92.55L433.60,90.65L435.50,92.55L433.60,94.45ZM442.90,92.55L444.80,90.65L446.70,92.55L444.80,94.45ZM454.10,92.55L456.00,90.65L457.90,92.55L456.00,94.45ZM465.30,92.55L467.20,90.65L469.10,92.55L467.20,94.45ZM476.50,92.55L478.40,90.65L480.30,92.55L478.40,94.45ZM487.70,92.55L489.60,90.65L491.50,92.55L489.60,94.45ZM179.70,98.28L181.60,96.38L183.50,98.28L181.60,100.18ZM190.90,98.28L192.80,96.38L194.70,98.28L192.80,100.18ZM202.10,98.28L204.00,96.38L205.90,98.28L204.00,100.18ZM213.30,98.28L215.20,96.38L217.10,98.28L215.20,100.18ZM224.50,98.28L226.40,96.38L228.30,98.28L226.40,100.18ZM235.70,98.28L237.60,96.38L239.50,98.28L237.60,100.18ZM246.90,98.28L248.80,96.38L250.70,98.28L248.80,100.18ZM258.10,98.28L260.00,96.38L261.90,98.28L260.00,100.18ZM269.30,98.28L271.20,96.38L273.10,98.28L271.20,100.18ZM280.50,98.28L282.40,96.38L284.30,98.28L282.40,100.18ZM291.70,98.28L293.60,96.38L295.50,98.28L293.60,100.18ZM302.90,98.28L304.80,96.38L306.70,98.28L304.80,100.18ZM314.10,98.28L316.00,96.38L317.90,98.28L316.00,100.18ZM325.30,98.28L327.20,96.38L329.10,98.28L327.20,100.18ZM336.50,98.28L338.40,96.38L340.30,98.28L338.40,100.18ZM347.70,98.28L349.60,96.38L351.50,98.28L349.60,100.18ZM358.90,98.28L360.80,96.38L362.70,98.28L360.80,100.18ZM370.10,98.28L372.00,96.38L373.90,98.28L372.00,100.18ZM381.30,98.28L383.20,96.38L385.10,98.28L383.20,100.18ZM392.50,98.28L394.40,96.38L396.30,98.28L394.40,100.18ZM403.70,98.28L405.60,96.38L407.50,98.28L405.60,100.18ZM414.90,98.28L416.80,96.38L418.70,98.28L416.80,100.18ZM426.10,98.28L428.00,96.38L429.90,98.28L428.00,100.18ZM437.30,98.28L439.20,96.38L441.10,98.28L439.20,100.18ZM448.50,98.28L450.40,96.38L452.30,98.28L450.40,100.18ZM459.70,98.28L461.60,96.38L463.50,98.28L461.60,100.18ZM470.90,98.28L472.80,96.38L474.70,98.28L472.80,100.18ZM482.10,98.28L484.00,96.38L485.90,98.28L484.00,100.18ZM174.10,104.00L176.00,102.10L177.90,104.00L176.00,105.90ZM185.30,104.00L187.20,102.10L189.10,104.00L187.20,105.90ZM196.50,104.00L198.40,102.10L200.30,104.00L198.40,105.90ZM207.70,104.00L209.60,102.10L211.50,104.00L209.60,105.90ZM218.90,104.00L220.80,102.10L222.70,104.00L220.80,105.90ZM230.10,104.00L232.00,102.10L233.90,104.00L232.00,105.90ZM241.30,104.00L243.20,102.10L245.10,104.00L243.20,105.90ZM252.50,104.00L254.40,102.10L256.30,104.00L254.40,105.90ZM263.70,104.00L265.60,102.10L267.50,104.00L265.60,105.90ZM274.90,104.00L276.80,102.10L278.70,104.00L276.80,105.90ZM286.10,104.00L288.00,102.10L289.90,104.00L288.00,105.90ZM297.30,104.00L299.20,102.10L301.10,104.00L299.20,105.90ZM308.50,104.00L310.40,102.10L312.30,104.00L310.40,105.90ZM319.70,104.00L321.60,102.10L323.50,104.00L321.60,105.90ZM330.90,104.00L332.80,102.10L334.70,104.00L332.80,105.90ZM342.10,104.00L344.00,102.10L345.90,104.00L344.00,105.90ZM353.30,104.00L355.20,102.10L357.10,104.00L355.20,105.90ZM364.50,104.00L366.40,102.10L368.30,104.00L366.40,105.90ZM375.70,104.00L377.60,102.10L379.50,104.00L377.60,105.90ZM386.90,104.00L388.80,102.10L390.70,104.00L388.80,105.90ZM398.10,104.00L400.00,102.10L401.90,104.00L400.00,105.90ZM409.30,104.00L411.20,102.10L413.10,104.00L411.20,105.90ZM420.50,104.00L422.40,102.10L424.30,104.00L422.40,105.90ZM431.70,104.00L433.60,102.10L435.50,104.00L433.60,105.90ZM442.90,104.00L444.80,102.10L446.70,104.00L444.80,105.90ZM454.10,104.00L456.00,102.10L457.90,104.00L456.00,105.90ZM465.30,104.00L467.20,102.10L469.10,104.00L467.20,105.90ZM476.50,104.00L478.40,102.10L480.30,104.00L478.40,105.90ZM487.70,104.00L489.60,102.10L491.50,104.00L489.60,105.90ZM179.70,109.72L181.60,107.82L183.50,109.72L181.60,111.62ZM190.90,109.72L192.80,107.82L194.70,109.72L192.80,111.62ZM202.10,109.72L204.00,107.82L205.90,109.72L204.00,111.62ZM213.30,109.72L215.20,107.82L217.10,109.72L215.20,111.62ZM224.50,109.72L226.40,107.82L228.30,109.72L226.40,111.62ZM235.70,109.72L237.60,107.82L239.50,109.72L237.60,111.62ZM246.90,109.72L248.80,107.82L250.70,109.72L248.80,111.62ZM258.10,109.72L260.00,107.82L261.90,109.72L260.00,111.62ZM269.30,109.72L271.20,107.82L273.10,109.72L271.20,111.62ZM280.50,109.72L282.40,107.82L284.30,109.72L282.40,111.62ZM291.70,109.72L293.60,107.82L295.50,109.72L293.60,111.62ZM302.90,109.72L304.80,107.82L306.70,109.72L304.80,111.62ZM314.10,109.72L316.00,107.82L317.90,109.72L316.00,111.62ZM325.30,109.72L327.20,107.82L329.10,109.72L327.20,111.62ZM336.50,109.72L338.40,107.82L340.30,109.72L338.40,111.62ZM347.70,109.72L349.60,107.82L351.50,109.72L349.60,111.62ZM358.90,109.72L360.80,107.82L362.70,109.72L360.80,111.62ZM370.10,109.72L372.00,107.82L373.90,109.72L372.00,111.62ZM381.30,109.72L383.20,107.82L385.10,109.72L383.20,111.62ZM392.50,109.72L394.40,107.82L396.30,109.72L394.40,111.62ZM403.70,109.72L405.60,107.82L407.50,109.72L405.60,111.62ZM414.90,109.72L416.80,107.82L418.70,109.72L416.80,111.62ZM426.10,109.72L428.00,107.82L429.90,109.72L428.00,111.62ZM437.30,109.72L439.20,107.82L441.10,109.72L439.20,111.62ZM448.50,109.72L450.40,107.82L452.30,109.72L450.40,111.62ZM459.70,109.72L461.60,107.82L463.50,109.72L461.60,111.62ZM470.90,109.72L472.80,107.82L474.70,109.72L472.80,111.62ZM482.10,109.72L484.00,107.82L485.90,109.72L484.00,111.62Z"/></g><g clip-path="url(#cTMX)"><rect x="170" y="70" width="315" height="45" fill="#4CADDE"/><path d="M131.70,115L171.70,75M137.30,115L177.30,75M142.90,115L182.90,75M148.50,115L188.50,75M154.10,115L194.10,75M159.70,115L199.70,75M165.30,115L205.30,75M170.90,115L210.90,75M176.50,115L216.50,75M182.10,115L222.10,75M187.70,115L227.70,75M193.30,115L233.30,75M198.90,115L238.90,75M204.50,115L244.50,75M210.10,115L250.10,75M215.70,115L255.70,75M221.30,115L261.30,75M226.90,115L266.90,75M232.50,115L272.50,75M238.10,115L278.10,75M243.70,115L283.70,75M249.30,115L289.30,75M254.90,115L294.90,75M260.50,115L300.50,75M266.10,115L306.10,75M271.70,115L311.70,75M277.30,115L317.30,75M282.90,115L322.90,75M288.50,115L328.50,75M294.10,115L334.10,75M299.70,115L339.70,75M305.30,115L345.30,75M310.90,115L350.90,75M316.50,115L356.50,75M322.10,115L362.10,75M327.70,115L367.70,75M333.30,115L373.30,75M338.90,115L378.90,75M344.50,115L384.50,75M350.10,115L390.10,75M355.70,115L395.70,75M361.30,115L401.30,75M366.90,115L406.90,75M372.50,115L412.50,75M378.10,115L418.10,75M383.70,115L423.70,75M389.30,115L429.30,75M394.90,115L434.90,75M400.50,115L440.50,75M406.10,115L446.10,75M411.70,115L451.70,75M417.30,115L457.30,75M422.90,115L462.90,75M428.50,115L468.50,75M434.10,115L474.10,75M439.70,115L479.70,75M445.30,115L485.30,75M450.90,115L490.90,75M456.50,115L496.50,75M462.10,115L502.10,75M467.70,115L507.70,75M473.30,115L513.30,75M478.90,115L518.90,75M484.50,115L524.50,75" stroke="#fff" stroke-width="1.15" fill="none"/></g><polygon points="47.9,179.0 48.9,177.7 49.9,176.4 50.8,175.1 51.8,173.9 52.8,172.6 53.8,171.4 54.8,170.2 55.8,169.0 56.7,167.9 57.7,166.8 58.7,165.7 59.7,165.3 60.7,164.9 61.7,164.5 62.6,164.2 63.6,163.9 64.6,163.6 65.6,163.3 66.6,163.0 67.6,162.7 68.5,162.3 69.5,162.0 70.5,161.6 71.5,161.1 72.5,160.7 73.5,160.2 74.4,159.8 75.4,159.3 76.4,158.9 77.4,158.4 78.4,157.9 79.4,157.5 80.3,157.0 81.3,156.5 82.3,155.9 83.3,155.4 84.3,154.9 85.3,154.3 86.2,153.8 87.2,153.2 88.2,152.7 89.2,152.1 90.2,151.6 91.2,151.0 92.1,150.3 93.1,149.6 94.1,148.9 95.1,148.2 96.1,147.5 97.1,146.8 98.0,146.1 99.0,145.4 100.0,144.7 101.0,144.0 102.0,143.3 103.0,142.6 103.9,141.9 104.9,141.2 105.9,140.5 106.9,139.7 107.9,139.0 108.9,138.3 109.8,137.6 110.8,136.9 111.8,136.3 112.8,135.6 113.8,135.2 114.8,134.8 115.7,134.4 116.7,134.1 117.7,133.7 118.7,133.3 119.7,133.0 120.7,132.6 121.6,132.3 122.6,131.9 123.6,131.6 124.6,131.3 125.6,131.0 126.6,130.7 127.5,130.5 128.5,130.2 129.5,129.9 130.5,129.6 131.5,129.3 132.5,129.1 133.4,128.8 134.4,128.5 135.4,128.2 136.4,128.0 137.4,127.7 138.4,127.5 139.3,127.2 140.3,126.9 141.3,126.7 142.3,126.4 143.3,126.1 144.3,125.9 145.2,125.6 146.2,125.2 147.2,124.8 148.2,124.4 149.2,123.9 150.2,123.4 151.1,122.9 152.1,122.4 153.1,121.9 154.1,121.3 155.1,120.8 156.0,120.2 157.0,119.6 158.0,119.0 159.0,118.4 160.0,117.7 161.0,117.1 161.9,116.4 162.9,115.8 163.9,115.1 164.9,114.4 165.9,113.7 166.9,113.0 167.8,112.3 168.8,111.4 169.8,110.5 170.8,109.6 171.8,108.6 172.8,107.7 173.7,106.9 174.7,106.2 175.7,105.6 176.7,105.2 177.7,105.0 178.7,104.9 179.6,104.8 180.6,104.8 181.6,104.7 182.6,104.6 183.6,104.6 184.6,104.6 185.5,104.5 186.5,104.5 187.5,104.5 188.5,104.5 189.5,104.5 190.5,104.5 191.4,104.5 192.4,104.5 193.4,104.5 194.4,104.5 195.4,104.5 196.4,104.5 197.3,104.5 198.3,104.5 199.3,104.5 200.3,104.5 201.3,104.5 202.3,104.5 203.2,104.5 204.2,104.5 205.2,104.5 206.2,104.5 207.2,104.5 208.2,104.5 209.1,104.5 210.1,104.5 211.1,104.5 212.1,104.5 213.1,104.5 214.1,104.5 215.0,104.5 216.0,104.5 217.0,104.5 218.0,104.5 219.0,104.5 220.0,104.5 220.9,104.5 221.9,104.5 222.9,104.5 223.9,104.5 224.9,104.5 225.9,104.5 226.8,104.5 227.8,104.5 228.8,104.5 229.8,104.5 230.8,104.5 231.8,104.5 232.7,104.5 233.7,104.5 234.7,104.5 235.7,104.5 236.7,104.5 237.7,104.5 238.6,104.5 239.6,104.5 240.6,104.5 241.6,104.5 242.6,104.5 243.6,104.5 244.5,104.5 245.5,104.5 246.5,104.5 247.5,104.5 248.5,104.5 249.5,104.5 250.4,104.5 251.4,104.5 252.4,104.5 253.4,104.5 254.4,104.5 255.4,104.5 256.3,104.5 257.3,104.5 258.3,104.5 259.3,104.5 260.3,104.5 261.3,104.5 262.2,104.5 263.2,104.5 264.2,104.5 265.2,104.5 266.2,104.5 267.1,104.5 268.1,104.5 269.1,104.5 270.1,104.5 271.1,104.5 272.1,104.5 273.0,104.5 274.0,104.5 275.0,104.5 276.0,104.5 277.0,104.5 278.0,104.5 278.9,104.5 279.9,104.5 280.9,104.5 281.9,104.5 282.9,104.5 283.9,104.5 284.8,104.5 285.8,104.5 286.8,104.5 287.8,104.5 288.8,104.5 289.8,104.5 290.7,104.5 291.7,104.5 292.7,104.5 293.7,104.5 294.7,104.5 295.7,104.5 296.6,104.5 297.6,104.5 298.6,104.5 299.6,104.5 300.6,104.5 301.6,104.5 302.5,104.5 303.5,104.5 304.5,104.5 305.5,104.5 306.5,104.5 307.5,104.5 308.4,104.5 309.4,104.5 310.4,104.5 311.4,104.5 312.4,104.5 313.4,104.5 314.3,104.5 315.3,104.5 316.3,104.5 317.3,104.5 318.3,104.5 319.3,104.5 320.2,104.5 321.2,104.5 322.2,104.5 323.2,104.5 324.2,104.5 325.2,104.5 326.1,104.5 327.1,104.5 328.1,104.5 329.1,104.5 330.1,104.5 331.1,104.5 332.0,104.5 333.0,104.5 334.0,104.5 335.0,104.5 336.0,104.5 337.0,104.5 337.9,104.5 338.9,104.5 339.9,104.5 340.9,104.5 341.9,104.5 342.9,104.5 343.8,104.5 344.8,104.5 345.8,104.5 346.8,104.5 347.8,104.5 348.8,104.5 349.7,104.5 350.7,104.5 351.7,104.5 352.7,104.5 353.7,104.5 354.7,104.5 355.6,104.5 356.6,104.5 357.6,104.5 358.6,104.5 359.6,104.5 360.6,104.5 361.5,104.5 362.5,104.5 363.5,104.5 364.5,104.5 365.5,104.5 366.5,104.5 367.4,104.5 368.4,104.5 369.4,104.5 370.4,104.5 371.4,104.5 372.3,104.5 373.3,104.5 374.3,104.5 375.3,104.5 376.3,104.5 377.3,104.5 378.2,104.5 379.2,104.5 380.2,104.5 381.2,104.5 382.2,104.5 383.2,104.5 384.1,104.5 385.1,104.5 386.1,104.5 387.1,104.5 388.1,104.5 389.1,104.5 390.0,104.5 391.0,104.5 392.0,104.5 393.0,104.5 394.0,104.5 395.0,104.5 395.9,104.5 396.9,104.5 397.9,104.5 398.9,104.5 399.9,104.5 400.9,104.5 401.8,104.5 402.8,104.5 403.8,104.5 404.8,104.5 405.8,104.5 406.8,104.5 407.7,104.5 408.7,104.5 409.7,104.5 410.7,104.5 411.7,104.5 412.7,104.5 413.6,104.5 414.6,104.5 415.6,104.5 416.6,104.5 417.6,104.5 418.6,104.5 419.5,104.5 420.5,104.5 421.5,104.5 422.5,104.5 423.5,104.5 424.5,104.5 425.4,104.5 426.4,104.5 427.4,104.5 428.4,104.5 429.4,104.5 430.4,104.5 431.3,104.5 432.3,104.5 433.3,104.5 434.3,104.5 435.3,104.5 436.3,104.5 437.2,104.5 438.2,104.5 439.2,104.5 440.2,104.5 441.2,104.5 442.2,104.5 443.1,104.5 444.1,104.5 445.1,104.5 446.1,104.5 447.1,104.5 448.1,104.5 449.0,104.5 450.0,104.5 451.0,104.5 452.0,104.5 453.0,104.5 454.0,104.5 454.9,104.5 455.9,104.5 456.9,104.5 457.9,104.5 458.9,104.5 459.9,104.5 460.8,104.5 461.8,104.5 462.8,104.5 463.8,104.5 464.8,104.5 465.8,104.5 466.7,104.5 467.7,104.5 468.7,104.5 469.7,104.5 470.7,104.5 471.7,104.5 472.6,104.5 473.6,104.5 474.6,104.5 475.6,104.5 476.6,104.5 477.6,104.5 478.5,104.5 479.5,104.5 480.5,104.5 480.5,117.7 479.5,117.7 478.5,117.7 477.6,117.7 476.6,117.7 475.6,117.7 474.6,117.7 473.6,117.7 472.6,117.7 471.7,117.7 470.7,117.7 469.7,117.7 468.7,117.7 467.7,117.7 466.7,117.7 465.8,117.7 464.8,117.7 463.8,117.7 462.8,117.7 461.8,117.7 460.8,117.7 459.9,117.7 458.9,117.7 457.9,117.7 456.9,117.7 455.9,117.7 454.9,117.7 454.0,117.7 453.0,117.7 452.0,117.7 451.0,117.7 450.0,117.7 449.0,117.7 448.1,117.7 447.1,117.7 446.1,117.7 445.1,117.7 444.1,117.7 443.1,117.7 442.2,117.7 441.2,117.7 440.2,117.7 439.2,117.7 438.2,117.7 437.2,117.7 436.3,117.7 435.3,117.7 434.3,117.7 433.3,117.7 432.3,117.7 431.3,117.7 430.4,117.7 429.4,117.7 428.4,117.7 427.4,117.7 426.4,117.7 425.4,117.7 424.5,117.7 423.5,117.7 422.5,117.7 421.5,117.7 420.5,117.7 419.5,117.7 418.6,117.7 417.6,117.7 416.6,117.7 415.6,117.7 414.6,117.7 413.6,117.7 412.7,117.7 411.7,117.7 410.7,117.7 409.7,117.7 408.7,117.7 407.7,117.7 406.8,117.7 405.8,117.7 404.8,117.7 403.8,117.7 402.8,117.7 401.8,117.7 400.9,117.7 399.9,117.7 398.9,117.7 397.9,117.7 396.9,117.7 395.9,117.7 395.0,117.7 394.0,117.7 393.0,117.7 392.0,117.7 391.0,117.7 390.0,117.7 389.1,117.7 388.1,117.7 387.1,117.7 386.1,117.7 385.1,117.7 384.1,117.7 383.2,117.7 382.2,117.7 381.2,117.7 380.2,117.7 379.2,117.7 378.2,117.7 377.3,117.7 376.3,117.7 375.3,117.7 374.3,117.7 373.3,117.7 372.3,117.7 371.4,117.7 370.4,117.7 369.4,117.7 368.4,117.7 367.4,117.7 366.5,117.7 365.5,117.7 364.5,117.7 363.5,117.7 362.5,117.7 361.5,117.7 360.6,117.7 359.6,117.7 358.6,117.7 357.6,117.7 356.6,117.7 355.6,117.7 354.7,117.7 353.7,117.7 352.7,117.7 351.7,117.7 350.7,117.7 349.7,117.7 348.8,117.7 347.8,117.7 346.8,117.7 345.8,117.7 344.8,117.7 343.8,117.7 342.9,117.7 341.9,117.7 340.9,117.7 339.9,117.7 338.9,117.7 337.9,117.7 337.0,117.7 336.0,117.7 335.0,117.7 334.0,117.7 333.0,117.7 332.0,117.7 331.1,117.7 330.1,117.7 329.1,117.7 328.1,117.7 327.1,117.7 326.1,117.7 325.2,117.7 324.2,117.7 323.2,117.7 322.2,117.7 321.2,117.7 320.2,117.7 319.3,117.7 318.3,117.7 317.3,117.7 316.3,117.7 315.3,117.7 314.3,117.7 313.4,117.7 312.4,117.7 311.4,117.7 310.4,117.7 309.4,117.7 308.4,117.7 307.5,117.7 306.5,117.7 305.5,117.7 304.5,117.7 303.5,117.7 302.5,117.7 301.6,117.7 300.6,117.7 299.6,117.7 298.6,117.7 297.6,117.7 296.6,117.7 295.7,117.7 294.7,117.7 293.7,117.7 292.7,117.7 291.7,117.7 290.7,117.7 289.8,117.7 288.8,117.7 287.8,117.7 286.8,117.7 285.8,117.7 284.8,117.7 283.9,117.7 282.9,117.7 281.9,117.7 280.9,117.7 279.9,117.7 278.9,117.7 278.0,117.7 277.0,117.7 276.0,117.7 275.0,117.7 274.0,117.7 273.0,117.7 272.1,117.7 271.1,117.7 270.1,117.7 269.1,117.7 268.1,117.7 267.1,117.7 266.2,117.7 265.2,117.7 264.2,117.7 263.2,117.7 262.2,117.7 261.3,117.7 260.3,117.7 259.3,117.7 258.3,117.7 257.3,117.7 256.3,117.7 255.4,117.7 254.4,117.7 253.4,117.7 252.4,117.7 251.4,117.7 250.4,117.7 249.5,117.7 248.5,117.7 247.5,117.7 246.5,117.7 245.5,117.7 244.5,117.7 243.6,117.7 242.6,117.7 241.6,117.7 240.6,117.7 239.6,117.7 238.6,117.7 237.7,117.7 236.7,117.7 235.7,117.7 234.7,117.7 233.7,117.7 232.7,117.7 231.8,117.7 230.8,117.7 229.8,117.7 228.8,117.7 227.8,117.7 226.8,117.7 225.9,117.7 224.9,117.7 223.9,117.7 222.9,117.7 221.9,117.7 220.9,117.7 220.0,117.7 219.0,117.7 218.0,117.7 217.0,117.7 216.0,117.7 215.0,117.7 214.1,117.7 213.1,117.7 212.1,117.7 211.1,117.7 210.1,117.7 209.1,117.7 208.2,117.7 207.2,117.7 206.2,117.7 205.2,117.7 204.2,117.7 203.2,117.7 202.3,117.7 201.3,117.7 200.3,117.7 199.3,117.7 198.3,117.7 197.3,117.7 196.4,117.7 195.4,117.7 194.4,117.7 193.4,117.7 192.4,117.7 191.4,117.7 190.5,117.7 189.5,117.7 188.5,117.7 187.5,117.8 186.5,117.8 185.5,117.9 184.6,117.9 183.6,118.0 182.6,118.1 181.6,118.2 180.6,118.2 179.6,118.3 178.7,118.4 177.7,118.5 176.7,118.7 175.7,118.8 174.7,119.0 173.7,119.2 172.8,119.3 171.8,119.5 170.8,119.7 169.8,119.9 168.8,120.0 167.8,120.2 166.9,120.4 165.9,120.6 164.9,120.8 163.9,121.0 162.9,121.2 161.9,121.5 161.0,121.7 160.0,121.9 159.0,122.1 158.0,122.3 157.0,122.6 156.0,122.8 155.1,123.1 154.1,123.5 153.1,123.8 152.1,123.9 151.1,124.1 150.2,124.3 149.2,124.5 148.2,124.8 147.2,125.0 146.2,125.3 145.2,125.6 144.3,125.9 143.3,126.1 142.3,126.4 141.3,126.7 140.3,126.9 139.3,127.2 138.4,127.5 137.4,127.7 136.4,128.0 135.4,128.2 134.4,128.5 133.4,128.8 132.5,129.1 131.5,129.3 130.5,129.6 129.5,129.9 128.5,130.2 127.5,130.5 126.6,130.7 125.6,131.0 124.6,131.3 123.6,131.6 122.6,131.9 121.6,132.3 120.7,132.6 119.7,133.0 118.7,133.3 117.7,133.7 116.7,134.1 115.7,134.4 114.8,134.8 113.8,135.2 112.8,135.6 111.8,136.3 110.8,136.9 109.8,137.6 108.9,138.3 107.9,139.0 106.9,139.7 105.9,140.5 104.9,141.2 103.9,141.9 103.0,142.6 102.0,143.3 101.0,144.0 100.0,144.7 99.0,145.4 98.0,146.1 97.1,146.8 96.1,147.5 95.1,148.2 94.1,148.9 93.1,149.6 92.1,150.3 91.2,151.0 90.2,151.6 89.2,152.1 88.2,152.7 87.2,153.2 86.2,153.8 85.3,154.3 84.3,154.9 83.3,155.4 82.3,155.9 81.3,156.5 80.3,157.0 79.4,157.5 78.4,157.9 77.4,158.4 76.4,158.9 75.4,159.3 74.4,159.8 73.5,160.2 72.5,160.7 71.5,161.1 70.5,161.6 69.5,162.0 68.5,162.3 67.6,162.7 66.6,163.0 65.6,163.3 64.6,163.6 63.6,163.9 62.6,164.2 61.7,164.5 60.7,164.9 59.7,165.3 58.7,165.7 57.7,166.8 56.7,167.9 55.8,169.0 54.8,170.2 53.8,171.4 52.8,172.6 51.8,173.9 50.8,175.1 49.9,176.4 48.9,177.7 47.9,179.0" fill="#4CADDE"/><g clip-path="url(#cRAIL)"><rect x="40" y="110" width="450" height="80" fill="#EAF4FC"/><rect x="46.20" y="110" width="4.5" height="80" fill="#3D5888"/><rect x="57.50" y="110" width="4.5" height="80" fill="#3D5888"/><rect x="68.80" y="110" width="4.5" height="80" fill="#3D5888"/><rect x="80.10" y="110" width="4.5" height="80" fill="#3D5888"/><rect x="91.40" y="110" width="4.5" height="80" fill="#3D5888"/><rect x="102.70" y="110" width="4.5" height="80" fill="#3D5888"/><rect x="114.00" y="110" width="4.5" height="80" fill="#3D5888"/><rect x="125.30" y="110" width="4.5" height="80" fill="#3D5888"/><rect x="136.60" y="110" width="4.5" height="80" fill="#3D5888"/><rect x="147.90" y="110" width="4.5" height="80" fill="#3D5888"/><rect x="159.20" y="110" width="4.5" height="80" fill="#3D5888"/><rect x="170.50" y="110" width="4.5" height="80" fill="#3D5888"/><rect x="181.80" y="110" width="4.5" height="80" fill="#3D5888"/><rect x="193.10" y="110" width="4.5" height="80" fill="#3D5888"/><rect x="204.40" y="110" width="4.5" height="80" fill="#3D5888"/><rect x="215.70" y="110" width="4.5" height="80" fill="#3D5888"/><rect x="227.00" y="110" width="4.5" height="80" fill="#3D5888"/><rect x="238.30" y="110" width="4.5" height="80" fill="#3D5888"/><rect x="249.60" y="110" width="4.5" height="80" fill="#3D5888"/><rect x="260.90" y="110" width="4.5" height="80" fill="#3D5888"/><rect x="272.20" y="110" width="4.5" height="80" fill="#3D5888"/><rect x="283.50" y="110" width="4.5" height="80" fill="#3D5888"/><rect x="294.80" y="110" width="4.5" height="80" fill="#3D5888"/><rect x="306.10" y="110" width="4.5" height="80" fill="#3D5888"/><rect x="317.40" y="110" width="4.5" height="80" fill="#3D5888"/><rect x="328.70" y="110" width="4.5" height="80" fill="#3D5888"/><rect x="340.00" y="110" width="4.5" height="80" fill="#3D5888"/><rect x="351.30" y="110" width="4.5" height="80" fill="#3D5888"/><rect x="362.60" y="110" width="4.5" height="80" fill="#3D5888"/><rect x="373.90" y="110" width="4.5" height="80" fill="#3D5888"/><rect x="385.20" y="110" width="4.5" height="80" fill="#3D5888"/><rect x="396.50" y="110" width="4.5" height="80" fill="#3D5888"/><rect x="407.80" y="110" width="4.5" height="80" fill="#3D5888"/><rect x="419.10" y="110" width="4.5" height="80" fill="#3D5888"/><rect x="430.40" y="110" width="4.5" height="80" fill="#3D5888"/><rect x="441.70" y="110" width="4.5" height="80" fill="#3D5888"/><rect x="453.00" y="110" width="4.5" height="80" fill="#3D5888"/><rect x="464.30" y="110" width="4.5" height="80" fill="#3D5888"/><rect x="475.60" y="110" width="4.5" height="80" fill="#3D5888"/></g><polygon points="47.9,179.0 48.9,177.7 49.9,176.5 50.8,175.3 51.8,174.1 52.8,172.9 53.8,171.7 54.8,170.6 55.8,169.5 56.7,168.4 57.7,167.4 58.7,166.5 59.7,166.3 60.7,166.1 61.7,165.9 62.6,165.7 63.6,165.5 64.6,165.3 65.6,165.2 66.6,165.0 67.6,164.8 68.5,164.7 69.5,164.5 70.5,164.4 71.5,164.2 72.5,164.1 73.5,164.0 74.4,163.9 75.4,163.7 76.4,163.6 77.4,163.5 78.4,163.3 79.4,163.2 80.3,163.0 81.3,162.4 82.3,161.8 83.3,161.2 84.3,160.5 85.3,159.8 86.2,159.1 87.2,158.4 88.2,157.7 89.2,156.9 90.2,156.2 91.2,155.5 92.1,154.7 93.1,153.9 94.1,153.1 95.1,152.2 96.1,151.4 97.1,150.6 98.0,149.8 99.0,148.9 100.0,148.1 101.0,147.3 102.0,146.5 103.0,145.8 103.9,145.1 104.9,144.4 105.9,143.7 106.9,143.0 107.9,142.3 108.9,141.6 109.8,140.9 110.8,140.3 111.8,139.6 112.8,139.0 113.8,138.7 114.8,138.5 115.7,138.2 116.7,138.0 117.7,137.8 118.7,137.6 119.7,137.4 120.7,137.2 121.6,137.0 122.6,136.9 123.6,136.7 124.6,136.7 125.6,136.7 126.6,136.8 127.5,136.8 128.5,136.8 129.5,136.9 130.5,136.9 131.5,136.9 132.5,137.0 133.4,137.0 134.4,137.0 135.4,136.9 136.4,136.9 137.4,136.8 138.4,136.7 139.3,136.6 140.3,136.5 141.3,136.4 142.3,136.3 143.3,136.2 144.3,136.1 145.2,136.0 146.2,135.5 147.2,134.9 148.2,134.3 149.2,133.6 150.2,133.0 151.1,132.3 152.1,131.6 153.1,130.9 154.1,130.2 155.1,129.6 156.0,129.0 157.0,128.7 158.0,128.4 159.0,128.1 160.0,127.9 161.0,127.6 161.9,127.4 162.9,127.1 163.9,126.9 164.9,126.7 165.9,126.4 166.9,126.2 167.8,126.1 168.8,126.0 169.8,125.8 170.8,125.7 171.8,125.6 172.8,125.5 173.7,125.4 174.7,125.3 175.7,125.2 176.7,125.1 177.7,125.0 178.7,124.9 179.6,124.9 180.6,124.8 181.6,124.7 182.6,124.7 183.6,124.6 184.6,124.5 185.5,124.5 186.5,124.4 187.5,124.4 188.5,124.3 189.5,124.3 190.5,124.2 191.4,124.2 192.4,124.1 193.4,124.1 194.4,124.0 195.4,124.0 196.4,123.9 197.3,123.9 198.3,123.8 199.3,123.8 200.3,123.8 201.3,123.8 202.3,123.8 203.2,123.8 204.2,123.8 205.2,123.8 206.2,123.8 207.2,123.8 208.2,123.8 209.1,123.8 210.1,123.8 211.1,123.8 212.1,123.8 213.1,123.8 214.1,123.8 215.0,123.8 216.0,123.8 217.0,123.8 218.0,123.8 219.0,123.8 220.0,123.8 220.9,123.8 221.9,123.8 222.9,123.8 223.9,123.8 224.9,123.8 225.9,123.8 226.8,123.8 227.8,123.8 228.8,123.8 229.8,123.8 230.8,123.8 231.8,123.8 232.7,123.8 233.7,123.8 234.7,123.8 235.7,123.8 236.7,123.8 237.7,123.8 238.6,123.8 239.6,123.8 240.6,123.8 241.6,123.8 242.6,123.8 243.6,123.8 244.5,123.8 245.5,123.8 246.5,123.8 247.5,123.8 248.5,123.8 249.5,123.8 250.4,123.8 251.4,123.8 252.4,123.8 253.4,123.8 254.4,123.8 255.4,123.8 256.3,123.8 257.3,123.8 258.3,123.8 259.3,123.8 260.3,123.8 261.3,123.8 262.2,123.8 263.2,123.8 264.2,123.8 265.2,123.8 266.2,123.8 267.1,123.8 268.1,123.8 269.1,123.8 270.1,123.8 271.1,123.8 272.1,123.8 273.0,123.8 274.0,123.8 275.0,123.8 276.0,123.8 277.0,123.8 278.0,123.8 278.9,123.8 279.9,123.8 280.9,123.8 281.9,123.8 282.9,123.8 283.9,123.8 284.8,123.8 285.8,123.8 286.8,123.8 287.8,123.8 288.8,123.8 289.8,123.8 290.7,123.8 291.7,123.8 292.7,123.8 293.7,123.8 294.7,123.8 295.7,123.8 296.6,123.8 297.6,123.8 298.6,123.8 299.6,123.8 300.6,123.8 301.6,123.8 302.5,123.8 303.5,123.8 304.5,123.8 305.5,123.8 306.5,123.8 307.5,123.8 308.4,123.8 309.4,123.8 310.4,123.8 311.4,123.8 312.4,123.8 313.4,123.8 314.3,123.8 315.3,123.8 316.3,123.8 317.3,123.8 318.3,123.8 319.3,123.8 320.2,123.8 321.2,123.8 322.2,123.8 323.2,123.8 324.2,123.8 325.2,123.8 326.1,123.8 327.1,123.8 328.1,123.8 329.1,123.8 330.1,123.8 331.1,123.8 332.0,123.8 333.0,123.8 334.0,123.8 335.0,123.8 336.0,123.8 337.0,123.8 337.9,123.8 338.9,123.8 339.9,123.8 340.9,123.8 341.9,123.8 342.9,123.8 343.8,123.8 344.8,123.8 345.8,123.8 346.8,123.8 347.8,123.8 348.8,123.8 349.7,123.8 350.7,123.8 351.7,123.8 352.7,123.8 353.7,123.8 354.7,123.8 355.6,123.8 356.6,123.8 357.6,123.8 358.6,123.8 359.6,123.8 360.6,123.8 361.5,123.8 362.5,123.8 363.5,123.8 364.5,123.8 365.5,123.8 366.5,123.8 367.4,123.8 368.4,123.8 369.4,123.8 370.4,123.8 371.4,123.8 372.3,123.8 373.3,123.8 374.3,123.8 375.3,123.8 376.3,123.8 377.3,123.8 378.2,123.8 379.2,123.8 380.2,123.8 381.2,123.8 382.2,123.8 383.2,123.8 384.1,123.8 385.1,123.8 386.1,123.8 387.1,123.8 388.1,123.8 389.1,123.8 390.0,123.8 391.0,123.8 392.0,123.8 393.0,123.8 394.0,123.8 395.0,123.8 395.9,123.8 396.9,123.8 397.9,123.8 398.9,123.8 399.9,123.8 400.9,123.8 401.8,123.8 402.8,123.8 403.8,123.8 404.8,123.8 405.8,123.8 406.8,123.8 407.7,123.8 408.7,123.8 409.7,123.8 410.7,123.8 411.7,123.8 412.7,123.8 413.6,123.8 414.6,123.8 415.6,123.8 416.6,123.8 417.6,123.8 418.6,123.8 419.5,123.8 420.5,123.8 421.5,123.8 422.5,123.8 423.5,123.8 424.5,123.8 425.4,123.8 426.4,123.8 427.4,123.8 428.4,123.8 429.4,123.8 430.4,123.8 431.3,123.8 432.3,123.8 433.3,123.8 434.3,123.8 435.3,123.8 436.3,123.8 437.2,123.8 438.2,123.8 439.2,123.8 440.2,123.8 441.2,123.8 442.2,123.8 443.1,123.8 444.1,123.8 445.1,123.8 446.1,123.8 447.1,123.8 448.1,123.8 449.0,123.8 450.0,123.8 451.0,123.8 452.0,123.8 453.0,123.8 454.0,123.8 454.9,123.8 455.9,123.8 456.9,123.8 457.9,123.8 458.9,123.8 459.9,123.8 460.8,123.8 461.8,123.8 462.8,123.8 463.8,123.8 464.8,123.8 465.8,123.8 466.7,123.8 467.7,123.8 468.7,123.8 469.7,123.8 470.7,123.8 471.7,123.8 472.6,123.8 473.6,123.8 474.6,123.8 475.6,123.8 476.6,123.8 477.6,123.8 478.5,123.8 479.5,123.8 480.5,123.8 480.5,287.8 47.9,287.8" fill="#E87722"/><polygon points="47.9,257.6 48.9,256.4 49.9,255.1 50.8,253.9 51.8,252.7 52.8,251.6 53.8,250.4 54.8,249.4 55.8,248.4 56.7,247.4 57.7,246.5 58.7,245.7 59.7,245.4 60.7,245.1 61.7,244.8 62.6,244.5 63.6,244.3 64.6,244.0 65.6,243.8 66.6,243.6 67.6,243.5 68.5,243.3 69.5,243.2 70.5,243.2 71.5,243.3 72.5,243.3 73.5,243.4 74.4,243.4 75.4,243.5 76.4,243.5 77.4,243.6 78.4,243.6 79.4,243.7 80.3,243.7 81.3,243.7 82.3,243.6 83.3,243.6 84.3,243.5 85.3,243.4 86.2,243.4 87.2,243.3 88.2,243.2 89.2,243.1 90.2,243.0 91.2,242.9 92.1,242.7 93.1,242.4 94.1,242.2 95.1,241.9 96.1,241.6 97.1,241.3 98.0,241.1 99.0,240.8 100.0,240.6 101.0,240.4 102.0,240.2 103.0,240.2 103.9,240.1 104.9,240.1 105.9,240.1 106.9,240.1 107.9,240.1 108.9,240.0 109.8,240.0 110.8,240.0 111.8,240.0 112.8,240.0 113.8,240.0 114.8,240.0 115.7,240.0 116.7,240.1 117.7,240.1 118.7,240.1 119.7,240.1 120.7,240.1 121.6,240.2 122.6,240.2 123.6,240.2 124.6,240.2 125.6,240.3 126.6,240.3 127.5,240.4 128.5,240.4 129.5,240.5 130.5,240.5 131.5,240.6 132.5,240.6 133.4,240.7 134.4,240.7 135.4,240.7 136.4,240.6 137.4,240.5 138.4,240.5 139.3,240.4 140.3,240.3 141.3,240.2 142.3,240.1 143.3,240.0 144.3,239.9 145.2,239.8 146.2,239.5 147.2,239.3 148.2,238.9 149.2,238.6 150.2,238.3 151.1,237.9 152.1,237.6 153.1,237.3 154.1,236.9 155.1,236.7 156.0,236.4 157.0,236.3 158.0,236.2 159.0,236.1 160.0,236.0 161.0,236.0 161.9,235.9 162.9,235.8 163.9,235.8 164.9,235.7 165.9,235.6 166.9,235.5 167.8,235.3 168.8,235.1 169.8,234.8 170.8,234.5 171.8,234.3 172.8,234.0 173.7,233.8 174.7,233.5 175.7,233.3 176.7,233.1 177.7,233.0 178.7,233.0 179.6,233.0 180.6,233.0 181.6,233.0 182.6,233.0 183.6,233.0 184.6,233.0 185.5,233.0 186.5,233.0 187.5,233.0 188.5,233.0 189.5,233.0 190.5,233.0 191.4,233.0 192.4,233.0 193.4,233.0 194.4,233.0 195.4,233.0 196.4,233.0 197.3,233.0 198.3,233.0 199.3,233.0 200.3,233.0 201.3,233.0 202.3,233.0 203.2,233.0 204.2,233.0 205.2,233.0 206.2,233.0 207.2,233.0 208.2,233.0 209.1,233.0 210.1,233.0 211.1,233.0 212.1,233.0 213.1,233.0 214.1,233.0 215.0,233.0 216.0,233.0 217.0,233.0 218.0,233.0 219.0,233.0 220.0,233.0 220.9,233.0 221.9,233.0 222.9,233.0 223.9,233.0 224.9,233.0 225.9,233.0 226.8,233.0 227.8,233.0 228.8,233.0 229.8,233.0 230.8,233.0 231.8,233.0 232.7,233.0 233.7,233.0 234.7,233.0 235.7,233.0 236.7,233.0 237.7,233.0 238.6,233.0 239.6,233.0 240.6,233.0 241.6,233.0 242.6,233.0 243.6,233.0 244.5,233.0 245.5,233.0 246.5,233.0 247.5,233.0 248.5,233.0 249.5,233.0 250.4,233.0 251.4,233.0 252.4,233.0 253.4,233.0 254.4,233.0 255.4,233.0 256.3,233.0 257.3,233.0 258.3,233.0 259.3,233.0 260.3,233.0 261.3,233.0 262.2,233.0 263.2,233.0 264.2,233.0 265.2,233.0 266.2,233.0 267.1,233.0 268.1,233.0 269.1,233.0 270.1,233.0 271.1,233.0 272.1,233.0 273.0,233.0 274.0,233.0 275.0,233.0 276.0,233.0 277.0,233.0 278.0,233.0 278.9,233.0 279.9,233.0 280.9,233.0 281.9,233.0 282.9,233.0 283.9,233.0 284.8,233.0 285.8,233.0 286.8,233.0 287.8,233.0 288.8,233.0 289.8,233.0 290.7,233.0 291.7,233.0 292.7,233.0 293.7,233.0 294.7,233.0 295.7,233.0 296.6,233.0 297.6,233.0 298.6,233.0 299.6,233.0 300.6,233.0 301.6,233.0 302.5,233.0 303.5,233.0 304.5,233.0 305.5,233.0 306.5,233.0 307.5,233.0 308.4,233.0 309.4,233.0 310.4,233.0 311.4,233.0 312.4,233.0 313.4,233.0 314.3,233.0 315.3,233.0 316.3,233.0 317.3,233.0 318.3,233.0 319.3,233.0 320.2,233.0 321.2,233.0 322.2,233.0 323.2,233.0 324.2,233.0 325.2,233.0 326.1,233.0 327.1,233.0 328.1,233.0 329.1,233.0 330.1,233.0 331.1,233.0 332.0,233.0 333.0,233.0 334.0,233.0 335.0,233.0 336.0,233.0 337.0,233.0 337.9,233.0 338.9,233.0 339.9,233.0 340.9,233.0 341.9,233.0 342.9,233.0 343.8,233.0 344.8,233.0 345.8,233.0 346.8,233.0 347.8,233.0 348.8,233.0 349.7,233.0 350.7,233.0 351.7,233.0 352.7,233.0 353.7,233.0 354.7,233.0 355.6,233.0 356.6,233.0 357.6,233.0 358.6,233.0 359.6,233.0 360.6,233.0 361.5,233.0 362.5,233.0 363.5,233.0 364.5,233.0 365.5,233.0 366.5,233.0 367.4,233.0 368.4,233.0 369.4,233.0 370.4,233.0 371.4,233.0 372.3,233.0 373.3,233.0 374.3,233.0 375.3,233.0 376.3,233.0 377.3,233.0 378.2,233.0 379.2,233.0 380.2,233.0 381.2,233.0 382.2,233.0 383.2,233.0 384.1,233.0 385.1,233.0 386.1,233.0 387.1,233.0 388.1,233.0 389.1,233.0 390.0,233.0 391.0,233.0 392.0,233.0 393.0,233.0 394.0,233.0 395.0,233.0 395.9,233.0 396.9,233.0 397.9,233.0 398.9,233.0 399.9,233.0 400.9,233.0 401.8,233.0 402.8,233.0 403.8,233.0 404.8,233.0 405.8,233.0 406.8,233.0 407.7,233.0 408.7,233.0 409.7,233.0 410.7,233.0 411.7,233.0 412.7,233.0 413.6,233.0 414.6,233.0 415.6,233.0 416.6,233.0 417.6,233.0 418.6,233.0 419.5,233.0 420.5,233.0 421.5,233.0 422.5,233.0 423.5,233.0 424.5,233.0 425.4,233.0 426.4,233.0 427.4,233.0 428.4,233.0 429.4,233.0 430.4,233.0 431.3,233.0 432.3,233.0 433.3,233.0 434.3,233.0 435.3,233.0 436.3,233.0 437.2,233.0 438.2,233.0 439.2,233.0 440.2,233.0 441.2,233.0 442.2,233.0 443.1,233.0 444.1,233.0 445.1,233.0 446.1,233.0 447.1,233.0 448.1,233.0 449.0,233.0 450.0,233.0 451.0,233.0 452.0,233.0 453.0,233.0 454.0,233.0 454.9,233.0 455.9,233.0 456.9,233.0 457.9,233.0 458.9,233.0 459.9,233.0 460.8,233.0 461.8,233.0 462.8,233.0 463.8,233.0 464.8,233.0 465.8,233.0 466.7,233.0 467.7,233.0 468.7,233.0 469.7,233.0 470.7,233.0 471.7,233.0 472.6,233.0 473.6,233.0 474.6,233.0 475.6,233.0 476.6,233.0 477.6,233.0 478.5,233.0 479.5,233.0 480.5,233.0 480.5,287.8 47.9,287.8" fill="#7A1A34"/><polygon points="47.9,261.8 48.9,261.9 49.9,262.0 50.8,262.1 51.8,262.2 52.8,262.2 53.8,262.3 54.8,262.4 55.8,262.5 56.7,262.5 57.7,262.6 58.7,262.6 59.7,262.6 60.7,262.6 61.7,262.5 62.6,262.5 63.6,262.5 64.6,262.4 65.6,262.4 66.6,262.4 67.6,262.3 68.5,262.3 69.5,262.3 70.5,262.3 71.5,262.4 72.5,262.5 73.5,262.5 74.4,262.6 75.4,262.7 76.4,262.8 77.4,262.8 78.4,262.9 79.4,263.0 80.3,263.0 81.3,262.9 82.3,262.8 83.3,262.7 84.3,262.6 85.3,262.5 86.2,262.4 87.2,262.2 88.2,262.1 89.2,262.0 90.2,261.9 91.2,261.8 92.1,261.8 93.1,261.7 94.1,261.7 95.1,261.7 96.1,261.6 97.1,261.6 98.0,261.6 99.0,261.6 100.0,261.6 101.0,261.5 102.0,261.5 103.0,261.5 103.9,261.4 104.9,261.4 105.9,261.3 106.9,261.3 107.9,261.2 108.9,261.1 109.8,261.1 110.8,261.1 111.8,261.0 112.8,261.0 113.8,261.0 114.8,261.0 115.7,261.1 116.7,261.1 117.7,261.1 118.7,261.1 119.7,261.2 120.7,261.2 121.6,261.2 122.6,261.3 123.6,261.3 124.6,261.3 125.6,261.4 126.6,261.4 127.5,261.5 128.5,261.5 129.5,261.6 130.5,261.7 131.5,261.7 132.5,261.7 133.4,261.8 134.4,261.8 135.4,261.8 136.4,261.7 137.4,261.7 138.4,261.6 139.3,261.5 140.3,261.5 141.3,261.4 142.3,261.3 143.3,261.2 144.3,261.1 145.2,261.0 146.2,260.8 147.2,260.6 148.2,260.3 149.2,260.1 150.2,259.9 151.1,259.6 152.1,259.3 153.1,259.1 154.1,258.9 155.1,258.6 156.0,258.4 157.0,258.2 158.0,258.1 159.0,257.9 160.0,257.8 161.0,257.6 161.9,257.4 162.9,257.3 163.9,257.2 164.9,257.1 165.9,257.0 166.9,256.9 167.8,256.9 168.8,256.9 169.8,256.9 170.8,256.9 171.8,256.9 172.8,256.9 173.7,256.9 174.7,256.9 175.7,256.9 176.7,256.9 177.7,256.9 178.7,256.9 179.6,256.9 180.6,256.9 181.6,256.9 182.6,256.9 183.6,256.9 184.6,256.9 185.5,256.9 186.5,256.9 187.5,256.9 188.5,256.9 189.5,256.9 190.5,256.9 191.4,256.9 192.4,256.9 193.4,256.9 194.4,256.9 195.4,256.9 196.4,256.9 197.3,256.9 198.3,256.9 199.3,256.9 200.3,256.9 201.3,256.9 202.3,256.9 203.2,256.9 204.2,256.9 205.2,256.9 206.2,256.9 207.2,256.9 208.2,256.9 209.1,256.9 210.1,256.9 211.1,256.9 212.1,256.9 213.1,256.9 214.1,256.9 215.0,256.9 216.0,256.9 217.0,256.9 218.0,256.9 219.0,256.9 220.0,256.9 220.9,256.9 221.9,256.9 222.9,256.9 223.9,256.9 224.9,256.9 225.9,256.9 226.8,256.9 227.8,256.9 228.8,256.9 229.8,256.9 230.8,256.9 231.8,256.9 232.7,256.9 233.7,256.9 234.7,256.9 235.7,256.9 236.7,256.9 237.7,256.9 238.6,256.9 239.6,256.9 240.6,256.9 241.6,256.9 242.6,256.9 243.6,256.9 244.5,256.9 245.5,256.9 246.5,256.9 247.5,256.9 248.5,256.9 249.5,256.9 250.4,256.9 251.4,256.9 252.4,256.9 253.4,256.9 254.4,256.9 255.4,256.9 256.3,256.9 257.3,256.9 258.3,256.9 259.3,256.9 260.3,256.9 261.3,256.9 262.2,256.9 263.2,256.9 264.2,256.9 265.2,256.9 266.2,256.9 267.1,256.9 268.1,256.9 269.1,256.9 270.1,256.9 271.1,256.9 272.1,256.9 273.0,256.9 274.0,256.9 275.0,256.9 276.0,256.9 277.0,256.9 278.0,256.9 278.9,256.9 279.9,256.9 280.9,256.9 281.9,256.9 282.9,256.9 283.9,256.9 284.8,256.9 285.8,256.9 286.8,256.9 287.8,256.9 288.8,256.9 289.8,256.9 290.7,256.9 291.7,256.9 292.7,256.9 293.7,256.9 294.7,256.9 295.7,256.9 296.6,256.9 297.6,256.9 298.6,256.9 299.6,256.9 300.6,256.9 301.6,256.9 302.5,256.9 303.5,256.9 304.5,256.9 305.5,256.9 306.5,256.9 307.5,256.9 308.4,256.9 309.4,256.9 310.4,256.9 311.4,256.9 312.4,256.9 313.4,256.9 314.3,256.9 315.3,256.9 316.3,256.9 317.3,256.9 318.3,256.9 319.3,256.9 320.2,256.9 321.2,256.9 322.2,256.9 323.2,256.9 324.2,256.9 325.2,256.9 326.1,256.9 327.1,256.9 328.1,256.9 329.1,256.9 330.1,256.9 331.1,256.9 332.0,256.9 333.0,256.9 334.0,256.9 335.0,256.9 336.0,256.9 337.0,256.9 337.9,256.9 338.9,256.9 339.9,256.9 340.9,256.9 341.9,256.9 342.9,256.9 343.8,256.9 344.8,256.9 345.8,256.9 346.8,256.9 347.8,256.9 348.8,256.9 349.7,256.9 350.7,256.9 351.7,256.9 352.7,256.9 353.7,256.9 354.7,256.9 355.6,256.9 356.6,256.9 357.6,256.9 358.6,256.9 359.6,256.9 360.6,256.9 361.5,256.9 362.5,256.9 363.5,256.9 364.5,256.9 365.5,256.9 366.5,256.9 367.4,256.9 368.4,256.9 369.4,256.9 370.4,256.9 371.4,256.9 372.3,256.9 373.3,256.9 374.3,256.9 375.3,256.9 376.3,256.9 377.3,256.9 378.2,256.9 379.2,256.9 380.2,256.9 381.2,256.9 382.2,256.9 383.2,256.9 384.1,256.9 385.1,256.9 386.1,256.9 387.1,256.9 388.1,256.9 389.1,256.9 390.0,256.9 391.0,256.9 392.0,256.9 393.0,256.9 394.0,256.9 395.0,256.9 395.9,256.9 396.9,256.9 397.9,256.9 398.9,256.9 399.9,256.9 400.9,256.9 401.8,256.9 402.8,256.9 403.8,256.9 404.8,256.9 405.8,256.9 406.8,256.9 407.7,256.9 408.7,256.9 409.7,256.9 410.7,256.9 411.7,256.9 412.7,256.9 413.6,256.9 414.6,256.9 415.6,256.9 416.6,256.9 417.6,256.9 418.6,256.9 419.5,256.9 420.5,256.9 421.5,256.9 422.5,256.9 423.5,256.9 424.5,256.9 425.4,256.9 426.4,256.9 427.4,256.9 428.4,256.9 429.4,256.9 430.4,256.9 431.3,256.9 432.3,256.9 433.3,256.9 434.3,256.9 435.3,256.9 436.3,256.9 437.2,256.9 438.2,256.9 439.2,256.9 440.2,256.9 441.2,256.9 442.2,256.9 443.1,256.9 444.1,256.9 445.1,256.9 446.1,256.9 447.1,256.9 448.1,256.9 449.0,256.9 450.0,256.9 451.0,256.9 452.0,256.9 453.0,256.9 454.0,256.9 454.9,256.9 455.9,256.9 456.9,256.9 457.9,256.9 458.9,256.9 459.9,256.9 460.8,256.9 461.8,256.9 462.8,256.9 463.8,256.9 464.8,256.9 465.8,256.9 466.7,256.9 467.7,256.9 468.7,256.9 469.7,256.9 470.7,256.9 471.7,256.9 472.6,256.9 473.6,256.9 474.6,256.9 475.6,256.9 476.6,256.9 477.6,256.9 478.5,256.9 479.5,256.9 480.5,256.9 480.5,287.8 47.9,287.8" fill="#1E7034"/><polygon points="47.9,272.5 48.9,272.5 49.9,272.5 50.8,272.5 51.8,272.5 52.8,272.5 53.8,272.5 54.8,272.5 55.8,272.5 56.7,272.5 57.7,272.5 58.7,272.5 59.7,272.5 60.7,272.5 61.7,272.5 62.6,272.5 63.6,272.5 64.6,272.5 65.6,272.5 66.6,272.5 67.6,272.5 68.5,272.5 69.5,272.5 70.5,272.5 71.5,272.5 72.5,272.5 73.5,272.5 74.4,272.5 75.4,272.5 76.4,272.5 77.4,272.5 78.4,272.5 79.4,272.5 80.3,272.5 81.3,272.5 82.3,272.5 83.3,272.5 84.3,272.5 85.3,272.5 86.2,272.5 87.2,272.5 88.2,272.5 89.2,272.5 90.2,272.5 91.2,272.5 92.1,272.5 93.1,272.5 94.1,272.5 95.1,272.5 96.1,272.5 97.1,272.5 98.0,272.5 99.0,272.5 100.0,272.5 101.0,272.5 102.0,272.5 103.0,272.5 103.9,272.5 104.9,272.5 105.9,272.5 106.9,272.5 107.9,272.5 108.9,272.5 109.8,272.5 110.8,272.5 111.8,272.5 112.8,272.5 113.8,272.5 114.8,272.5 115.7,272.5 116.7,272.5 117.7,272.5 118.7,272.5 119.7,272.5 120.7,272.5 121.6,272.5 122.6,272.5 123.6,272.5 124.6,272.5 125.6,272.5 126.6,272.5 127.5,272.5 128.5,272.5 129.5,272.5 130.5,272.5 131.5,272.5 132.5,272.5 133.4,272.5 134.4,272.5 135.4,272.5 136.4,272.5 137.4,272.5 138.4,272.5 139.3,272.5 140.3,272.5 141.3,272.5 142.3,272.5 143.3,272.5 144.3,272.5 145.2,272.5 146.2,272.4 147.2,272.2 148.2,271.9 149.2,271.7 150.2,271.4 151.1,271.2 152.1,270.9 153.1,270.6 154.1,270.3 155.1,270.0 156.0,269.8 157.0,269.6 158.0,269.4 159.0,269.2 160.0,269.0 161.0,268.8 161.9,268.6 162.9,268.4 163.9,268.2 164.9,268.0 165.9,267.9 166.9,267.8 167.8,267.8 168.8,267.8 169.8,267.8 170.8,267.8 171.8,267.8 172.8,267.8 173.7,267.8 174.7,267.8 175.7,267.8 176.7,267.8 177.7,267.8 178.7,267.8 179.6,267.8 180.6,267.8 181.6,267.8 182.6,267.8 183.6,267.8 184.6,267.8 185.5,267.8 186.5,267.8 187.5,267.8 188.5,267.8 189.5,267.8 190.5,267.8 191.4,267.8 192.4,267.8 193.4,267.8 194.4,267.8 195.4,267.8 196.4,267.8 197.3,267.8 198.3,267.8 199.3,267.8 200.3,267.8 201.3,267.8 202.3,267.8 203.2,267.8 204.2,267.8 205.2,267.8 206.2,267.8 207.2,267.8 208.2,267.8 209.1,267.8 210.1,267.8 211.1,267.8 212.1,267.8 213.1,267.8 214.1,267.8 215.0,267.8 216.0,267.8 217.0,267.8 218.0,267.8 219.0,267.8 220.0,267.8 220.9,267.8 221.9,267.8 222.9,267.8 223.9,267.8 224.9,267.8 225.9,267.8 226.8,267.8 227.8,267.8 228.8,267.8 229.8,267.8 230.8,267.8 231.8,267.8 232.7,267.8 233.7,267.8 234.7,267.8 235.7,267.8 236.7,267.8 237.7,267.8 238.6,267.8 239.6,267.8 240.6,267.8 241.6,267.8 242.6,267.8 243.6,267.8 244.5,267.8 245.5,267.8 246.5,267.8 247.5,267.8 248.5,267.8 249.5,267.8 250.4,267.8 251.4,267.8 252.4,267.8 253.4,267.8 254.4,267.8 255.4,267.8 256.3,267.8 257.3,267.8 258.3,267.8 259.3,267.8 260.3,267.8 261.3,267.8 262.2,267.8 263.2,267.8 264.2,267.8 265.2,267.8 266.2,267.8 267.1,267.8 268.1,267.8 269.1,267.8 270.1,267.8 271.1,267.8 272.1,267.8 273.0,267.8 274.0,267.8 275.0,267.8 276.0,267.8 277.0,267.8 278.0,267.8 278.9,267.8 279.9,267.8 280.9,267.8 281.9,267.8 282.9,267.8 283.9,267.8 284.8,267.8 285.8,267.8 286.8,267.8 287.8,267.8 288.8,267.8 289.8,267.8 290.7,267.8 291.7,267.8 292.7,267.8 293.7,267.8 294.7,267.8 295.7,267.8 296.6,267.8 297.6,267.8 298.6,267.8 299.6,267.8 300.6,267.8 301.6,267.8 302.5,267.8 303.5,267.8 304.5,267.8 305.5,267.8 306.5,267.8 307.5,267.8 308.4,267.8 309.4,267.8 310.4,267.8 311.4,267.8 312.4,267.8 313.4,267.8 314.3,267.8 315.3,267.8 316.3,267.8 317.3,267.8 318.3,267.8 319.3,267.8 320.2,267.8 321.2,267.8 322.2,267.8 323.2,267.8 324.2,267.8 325.2,267.8 326.1,267.8 327.1,267.8 328.1,267.8 329.1,267.8 330.1,267.8 331.1,267.8 332.0,267.8 333.0,267.8 334.0,267.8 335.0,267.8 336.0,267.8 337.0,267.8 337.9,267.8 338.9,267.8 339.9,267.8 340.9,267.8 341.9,267.8 342.9,267.8 343.8,267.8 344.8,267.8 345.8,267.8 346.8,267.8 347.8,267.8 348.8,267.8 349.7,267.8 350.7,267.8 351.7,267.8 352.7,267.8 353.7,267.8 354.7,267.8 355.6,267.8 356.6,267.8 357.6,267.8 358.6,267.8 359.6,267.8 360.6,267.8 361.5,267.8 362.5,267.8 363.5,267.8 364.5,267.8 365.5,267.8 366.5,267.8 367.4,267.8 368.4,267.8 369.4,267.8 370.4,267.8 371.4,267.8 372.3,267.8 373.3,267.8 374.3,267.8 375.3,267.8 376.3,267.8 377.3,267.8 378.2,267.8 379.2,267.8 380.2,267.8 381.2,267.8 382.2,267.8 383.2,267.8 384.1,267.8 385.1,267.8 386.1,267.8 387.1,267.8 388.1,267.8 389.1,267.8 390.0,267.8 391.0,267.8 392.0,267.8 393.0,267.8 394.0,267.8 395.0,267.8 395.9,267.8 396.9,267.8 397.9,267.8 398.9,267.8 399.9,267.8 400.9,267.8 401.8,267.8 402.8,267.8 403.8,267.8 404.8,267.8 405.8,267.8 406.8,267.8 407.7,267.8 408.7,267.8 409.7,267.8 410.7,267.8 411.7,267.8 412.7,267.8 413.6,267.8 414.6,267.8 415.6,267.8 416.6,267.8 417.6,267.8 418.6,267.8 419.5,267.8 420.5,267.8 421.5,267.8 422.5,267.8 423.5,267.8 424.5,267.8 425.4,267.8 426.4,267.8 427.4,267.8 428.4,267.8 429.4,267.8 430.4,267.8 431.3,267.8 432.3,267.8 433.3,267.8 434.3,267.8 435.3,267.8 436.3,267.8 437.2,267.8 438.2,267.8 439.2,267.8 440.2,267.8 441.2,267.8 442.2,267.8 443.1,267.8 444.1,267.8 445.1,267.8 446.1,267.8 447.1,267.8 448.1,267.8 449.0,267.8 450.0,267.8 451.0,267.8 452.0,267.8 453.0,267.8 454.0,267.8 454.9,267.8 455.9,267.8 456.9,267.8 457.9,267.8 458.9,267.8 459.9,267.8 460.8,267.8 461.8,267.8 462.8,267.8 463.8,267.8 464.8,267.8 465.8,267.8 466.7,267.8 467.7,267.8 468.7,267.8 469.7,267.8 470.7,267.8 471.7,267.8 472.6,267.8 473.6,267.8 474.6,267.8 475.6,267.8 476.6,267.8 477.6,267.8 478.5,267.8 479.5,267.8 480.5,267.8 480.5,287.8 47.9,287.8" fill="#E5435F"/><polygon points="47.9,273.8 48.9,273.8 49.9,273.8 50.8,273.8 51.8,273.8 52.8,273.8 53.8,273.8 54.8,273.8 55.8,273.8 56.7,273.8 57.7,273.8 58.7,273.8 59.7,273.8 60.7,273.8 61.7,273.8 62.6,273.8 63.6,273.8 64.6,273.8 65.6,273.8 66.6,273.8 67.6,273.8 68.5,273.8 69.5,273.8 70.5,273.8 71.5,273.8 72.5,273.8 73.5,273.8 74.4,273.8 75.4,273.8 76.4,273.8 77.4,273.8 78.4,273.8 79.4,273.8 80.3,273.8 81.3,273.8 82.3,273.8 83.3,273.8 84.3,273.8 85.3,273.8 86.2,273.8 87.2,273.8 88.2,273.8 89.2,273.8 90.2,273.8 91.2,273.8 92.1,273.8 93.1,273.8 94.1,273.8 95.1,273.8 96.1,273.8 97.1,273.8 98.0,273.8 99.0,273.8 100.0,273.8 101.0,273.8 102.0,273.8 103.0,273.8 103.9,273.8 104.9,273.8 105.9,273.8 106.9,273.8 107.9,273.8 108.9,273.8 109.8,273.8 110.8,273.8 111.8,273.8 112.8,273.8 113.8,273.8 114.8,273.8 115.7,273.8 116.7,273.8 117.7,273.8 118.7,273.8 119.7,273.8 120.7,273.8 121.6,273.8 122.6,273.8 123.6,273.8 124.6,273.8 125.6,273.8 126.6,273.8 127.5,273.8 128.5,273.8 129.5,273.8 130.5,273.8 131.5,273.8 132.5,273.8 133.4,273.8 134.4,273.8 135.4,273.8 136.4,273.8 137.4,273.8 138.4,273.8 139.3,273.8 140.3,273.8 141.3,273.8 142.3,273.8 143.3,273.8 144.3,273.8 145.2,273.8 146.2,273.8 147.2,273.7 148.2,273.6 149.2,273.6 150.2,273.5 151.1,273.4 152.1,273.3 153.1,273.2 154.1,273.2 155.1,273.1 156.0,273.0 157.0,272.9 158.0,272.9 159.0,272.8 160.0,272.7 161.0,272.7 161.9,272.6 162.9,272.6 163.9,272.5 164.9,272.5 165.9,272.4 166.9,272.4 167.8,272.4 168.8,272.4 169.8,272.4 170.8,272.4 171.8,272.4 172.8,272.4 173.7,272.4 174.7,272.4 175.7,272.4 176.7,272.4 177.7,272.4 178.7,272.4 179.6,272.4 180.6,272.4 181.6,272.4 182.6,272.4 183.6,272.4 184.6,272.4 185.5,272.4 186.5,272.4 187.5,272.4 188.5,272.4 189.5,272.4 190.5,272.4 191.4,272.4 192.4,272.4 193.4,272.4 194.4,272.4 195.4,272.4 196.4,272.4 197.3,272.4 198.3,272.4 199.3,272.4 200.3,272.4 201.3,272.4 202.3,272.4 203.2,272.4 204.2,272.4 205.2,272.4 206.2,272.4 207.2,272.4 208.2,272.4 209.1,272.4 210.1,272.4 211.1,272.4 212.1,272.4 213.1,272.4 214.1,272.4 215.0,272.4 216.0,272.4 217.0,272.4 218.0,272.4 219.0,272.4 220.0,272.4 220.9,272.4 221.9,272.4 222.9,272.4 223.9,272.4 224.9,272.4 225.9,272.4 226.8,272.4 227.8,272.4 228.8,272.4 229.8,272.4 230.8,272.4 231.8,272.4 232.7,272.4 233.7,272.4 234.7,272.4 235.7,272.4 236.7,272.4 237.7,272.4 238.6,272.4 239.6,272.4 240.6,272.4 241.6,272.4 242.6,272.4 243.6,272.4 244.5,272.4 245.5,272.4 246.5,272.4 247.5,272.4 248.5,272.4 249.5,272.4 250.4,272.4 251.4,272.4 252.4,272.4 253.4,272.4 254.4,272.4 255.4,272.4 256.3,272.4 257.3,272.4 258.3,272.4 259.3,272.4 260.3,272.4 261.3,272.4 262.2,272.4 263.2,272.4 264.2,272.4 265.2,272.4 266.2,272.4 267.1,272.4 268.1,272.4 269.1,272.4 270.1,272.4 271.1,272.4 272.1,272.4 273.0,272.4 274.0,272.4 275.0,272.4 276.0,272.4 277.0,272.4 278.0,272.4 278.9,272.4 279.9,272.4 280.9,272.4 281.9,272.4 282.9,272.4 283.9,272.4 284.8,272.4 285.8,272.4 286.8,272.4 287.8,272.4 288.8,272.4 289.8,272.4 290.7,272.4 291.7,272.4 292.7,272.4 293.7,272.4 294.7,272.4 295.7,272.4 296.6,272.4 297.6,272.4 298.6,272.4 299.6,272.4 300.6,272.4 301.6,272.4 302.5,272.4 303.5,272.4 304.5,272.4 305.5,272.4 306.5,272.4 307.5,272.4 308.4,272.4 309.4,272.4 310.4,272.4 311.4,272.4 312.4,272.4 313.4,272.4 314.3,272.4 315.3,272.4 316.3,272.4 317.3,272.4 318.3,272.4 319.3,272.4 320.2,272.4 321.2,272.4 322.2,272.4 323.2,272.4 324.2,272.4 325.2,272.4 326.1,272.4 327.1,272.4 328.1,272.4 329.1,272.4 330.1,272.4 331.1,272.4 332.0,272.4 333.0,272.4 334.0,272.4 335.0,272.4 336.0,272.4 337.0,272.4 337.9,272.4 338.9,272.4 339.9,272.4 340.9,272.4 341.9,272.4 342.9,272.4 343.8,272.4 344.8,272.4 345.8,272.4 346.8,272.4 347.8,272.4 348.8,272.4 349.7,272.4 350.7,272.4 351.7,272.4 352.7,272.4 353.7,272.4 354.7,272.4 355.6,272.4 356.6,272.4 357.6,272.4 358.6,272.4 359.6,272.4 360.6,272.4 361.5,272.4 362.5,272.4 363.5,272.4 364.5,272.4 365.5,272.4 366.5,272.4 367.4,272.4 368.4,272.4 369.4,272.4 370.4,272.4 371.4,272.4 372.3,272.4 373.3,272.4 374.3,272.4 375.3,272.4 376.3,272.4 377.3,272.4 378.2,272.4 379.2,272.4 380.2,272.4 381.2,272.4 382.2,272.4 383.2,272.4 384.1,272.4 385.1,272.4 386.1,272.4 387.1,272.4 388.1,272.4 389.1,272.4 390.0,272.4 391.0,272.4 392.0,272.4 393.0,272.4 394.0,272.4 395.0,272.4 395.9,272.4 396.9,272.4 397.9,272.4 398.9,272.4 399.9,272.4 400.9,272.4 401.8,272.4 402.8,272.4 403.8,272.4 404.8,272.4 405.8,272.4 406.8,272.4 407.7,272.4 408.7,272.4 409.7,272.4 410.7,272.4 411.7,272.4 412.7,272.4 413.6,272.4 414.6,272.4 415.6,272.4 416.6,272.4 417.6,272.4 418.6,272.4 419.5,272.4 420.5,272.4 421.5,272.4 422.5,272.4 423.5,272.4 424.5,272.4 425.4,272.4 426.4,272.4 427.4,272.4 428.4,272.4 429.4,272.4 430.4,272.4 431.3,272.4 432.3,272.4 433.3,272.4 434.3,272.4 435.3,272.4 436.3,272.4 437.2,272.4 438.2,272.4 439.2,272.4 440.2,272.4 441.2,272.4 442.2,272.4 443.1,272.4 444.1,272.4 445.1,272.4 446.1,272.4 447.1,272.4 448.1,272.4 449.0,272.4 450.0,272.4 451.0,272.4 452.0,272.4 453.0,272.4 454.0,272.4 454.9,272.4 455.9,272.4 456.9,272.4 457.9,272.4 458.9,272.4 459.9,272.4 460.8,272.4 461.8,272.4 462.8,272.4 463.8,272.4 464.8,272.4 465.8,272.4 466.7,272.4 467.7,272.4 468.7,272.4 469.7,272.4 470.7,272.4 471.7,272.4 472.6,272.4 473.6,272.4 474.6,272.4 475.6,272.4 476.6,272.4 477.6,272.4 478.5,272.4 479.5,272.4 480.5,272.4 480.5,287.8 47.9,287.8" fill="#FBBA3F"/><polygon points="47.9,277.8 48.9,277.8 49.9,277.8 50.8,277.8 51.8,277.8 52.8,277.8 53.8,277.8 54.8,277.8 55.8,277.8 56.7,277.8 57.7,277.8 58.7,277.8 59.7,277.8 60.7,277.8 61.7,277.8 62.6,277.8 63.6,277.8 64.6,277.8 65.6,277.8 66.6,277.8 67.6,277.8 68.5,277.8 69.5,277.8 70.5,277.8 71.5,277.8 72.5,277.8 73.5,277.8 74.4,277.8 75.4,277.8 76.4,277.8 77.4,277.8 78.4,277.8 79.4,277.8 80.3,277.8 81.3,277.8 82.3,277.8 83.3,277.8 84.3,277.8 85.3,277.8 86.2,277.8 87.2,277.8 88.2,277.8 89.2,277.8 90.2,277.8 91.2,277.8 92.1,277.8 93.1,277.8 94.1,277.8 95.1,277.8 96.1,277.8 97.1,277.8 98.0,277.8 99.0,277.8 100.0,277.8 101.0,277.8 102.0,277.8 103.0,277.8 103.9,277.8 104.9,277.8 105.9,277.8 106.9,277.8 107.9,277.8 108.9,277.8 109.8,277.8 110.8,277.8 111.8,277.8 112.8,277.8 113.8,277.8 114.8,277.8 115.7,277.8 116.7,277.8 117.7,277.8 118.7,277.8 119.7,277.8 120.7,277.8 121.6,277.8 122.6,277.8 123.6,277.8 124.6,277.8 125.6,277.8 126.6,277.8 127.5,277.8 128.5,277.8 129.5,277.8 130.5,277.8 131.5,277.8 132.5,277.8 133.4,277.8 134.4,277.8 135.4,277.8 136.4,277.8 137.4,277.8 138.4,277.8 139.3,277.8 140.3,277.8 141.3,277.8 142.3,277.8 143.3,277.8 144.3,277.8 145.2,277.8 146.2,277.8 147.2,277.7 148.2,277.6 149.2,277.6 150.2,277.5 151.1,277.4 152.1,277.3 153.1,277.2 154.1,277.2 155.1,277.1 156.0,277.0 157.0,276.9 158.0,276.9 159.0,276.8 160.0,276.7 161.0,276.6 161.9,276.6 162.9,276.5 163.9,276.4 164.9,276.4 165.9,276.3 166.9,276.3 167.8,276.3 168.8,276.3 169.8,276.3 170.8,276.3 171.8,276.3 172.8,276.3 173.7,276.3 174.7,276.3 175.7,276.3 176.7,276.3 177.7,276.3 178.7,276.3 179.6,276.3 180.6,276.3 181.6,276.3 182.6,276.3 183.6,276.3 184.6,276.3 185.5,276.3 186.5,276.3 187.5,276.3 188.5,276.3 189.5,276.3 190.5,276.3 191.4,276.3 192.4,276.3 193.4,276.3 194.4,276.3 195.4,276.3 196.4,276.3 197.3,276.3 198.3,276.3 199.3,276.3 200.3,276.3 201.3,276.3 202.3,276.3 203.2,276.3 204.2,276.3 205.2,276.3 206.2,276.3 207.2,276.3 208.2,276.3 209.1,276.3 210.1,276.3 211.1,276.3 212.1,276.3 213.1,276.3 214.1,276.3 215.0,276.3 216.0,276.3 217.0,276.3 218.0,276.3 219.0,276.3 220.0,276.3 220.9,276.3 221.9,276.3 222.9,276.3 223.9,276.3 224.9,276.3 225.9,276.3 226.8,276.3 227.8,276.3 228.8,276.3 229.8,276.3 230.8,276.3 231.8,276.3 232.7,276.3 233.7,276.3 234.7,276.3 235.7,276.3 236.7,276.3 237.7,276.3 238.6,276.3 239.6,276.3 240.6,276.3 241.6,276.3 242.6,276.3 243.6,276.3 244.5,276.3 245.5,276.3 246.5,276.3 247.5,276.3 248.5,276.3 249.5,276.3 250.4,276.3 251.4,276.3 252.4,276.3 253.4,276.3 254.4,276.3 255.4,276.3 256.3,276.3 257.3,276.3 258.3,276.3 259.3,276.3 260.3,276.3 261.3,276.3 262.2,276.3 263.2,276.3 264.2,276.3 265.2,276.3 266.2,276.3 267.1,276.3 268.1,276.3 269.1,276.3 270.1,276.3 271.1,276.3 272.1,276.3 273.0,276.3 274.0,276.3 275.0,276.3 276.0,276.3 277.0,276.3 278.0,276.3 278.9,276.3 279.9,276.3 280.9,276.3 281.9,276.3 282.9,276.3 283.9,276.3 284.8,276.3 285.8,276.3 286.8,276.3 287.8,276.3 288.8,276.3 289.8,276.3 290.7,276.3 291.7,276.3 292.7,276.3 293.7,276.3 294.7,276.3 295.7,276.3 296.6,276.3 297.6,276.3 298.6,276.3 299.6,276.3 300.6,276.3 301.6,276.3 302.5,276.3 303.5,276.3 304.5,276.3 305.5,276.3 306.5,276.3 307.5,276.3 308.4,276.3 309.4,276.3 310.4,276.3 311.4,276.3 312.4,276.3 313.4,276.3 314.3,276.3 315.3,276.3 316.3,276.3 317.3,276.3 318.3,276.3 319.3,276.3 320.2,276.3 321.2,276.3 322.2,276.3 323.2,276.3 324.2,276.3 325.2,276.3 326.1,276.3 327.1,276.3 328.1,276.3 329.1,276.3 330.1,276.3 331.1,276.3 332.0,276.3 333.0,276.3 334.0,276.3 335.0,276.3 336.0,276.3 337.0,276.3 337.9,276.3 338.9,276.3 339.9,276.3 340.9,276.3 341.9,276.3 342.9,276.3 343.8,276.3 344.8,276.3 345.8,276.3 346.8,276.3 347.8,276.3 348.8,276.3 349.7,276.3 350.7,276.3 351.7,276.3 352.7,276.3 353.7,276.3 354.7,276.3 355.6,276.3 356.6,276.3 357.6,276.3 358.6,276.3 359.6,276.3 360.6,276.3 361.5,276.3 362.5,276.3 363.5,276.3 364.5,276.3 365.5,276.3 366.5,276.3 367.4,276.3 368.4,276.3 369.4,276.3 370.4,276.3 371.4,276.3 372.3,276.3 373.3,276.3 374.3,276.3 375.3,276.3 376.3,276.3 377.3,276.3 378.2,276.3 379.2,276.3 380.2,276.3 381.2,276.3 382.2,276.3 383.2,276.3 384.1,276.3 385.1,276.3 386.1,276.3 387.1,276.3 388.1,276.3 389.1,276.3 390.0,276.3 391.0,276.3 392.0,276.3 393.0,276.3 394.0,276.3 395.0,276.3 395.9,276.3 396.9,276.3 397.9,276.3 398.9,276.3 399.9,276.3 400.9,276.3 401.8,276.3 402.8,276.3 403.8,276.3 404.8,276.3 405.8,276.3 406.8,276.3 407.7,276.3 408.7,276.3 409.7,276.3 410.7,276.3 411.7,276.3 412.7,276.3 413.6,276.3 414.6,276.3 415.6,276.3 416.6,276.3 417.6,276.3 418.6,276.3 419.5,276.3 420.5,276.3 421.5,276.3 422.5,276.3 423.5,276.3 424.5,276.3 425.4,276.3 426.4,276.3 427.4,276.3 428.4,276.3 429.4,276.3 430.4,276.3 431.3,276.3 432.3,276.3 433.3,276.3 434.3,276.3 435.3,276.3 436.3,276.3 437.2,276.3 438.2,276.3 439.2,276.3 440.2,276.3 441.2,276.3 442.2,276.3 443.1,276.3 444.1,276.3 445.1,276.3 446.1,276.3 447.1,276.3 448.1,276.3 449.0,276.3 450.0,276.3 451.0,276.3 452.0,276.3 453.0,276.3 454.0,276.3 454.9,276.3 455.9,276.3 456.9,276.3 457.9,276.3 458.9,276.3 459.9,276.3 460.8,276.3 461.8,276.3 462.8,276.3 463.8,276.3 464.8,276.3 465.8,276.3 466.7,276.3 467.7,276.3 468.7,276.3 469.7,276.3 470.7,276.3 471.7,276.3 472.6,276.3 473.6,276.3 474.6,276.3 475.6,276.3 476.6,276.3 477.6,276.3 478.5,276.3 479.5,276.3 480.5,276.3 480.5,287.8 47.9,287.8" fill="#AE4489"/><line x1="42.5" y1="251.50" x2="480" y2="251.50" stroke="#000" stroke-opacity="0.62" stroke-width="1"/><line x1="42.5" y1="214.50" x2="480" y2="214.50" stroke="#000" stroke-opacity="0.62" stroke-width="1"/><line x1="42.5" y1="178.40" x2="480" y2="178.40" stroke="#000" stroke-opacity="0.62" stroke-width="1"/><line x1="42.5" y1="141.50" x2="480" y2="141.50" stroke="#000" stroke-opacity="0.62" stroke-width="1"/><line x1="42.5" y1="105.00" x2="480" y2="105.00" stroke="#000" stroke-opacity="0.62" stroke-width="1"/><line x1="42.5" y1="68.50" x2="480" y2="68.50" stroke="#000" stroke-opacity="0.62" stroke-width="1"/><line x1="42.5" y1="31.50" x2="480" y2="31.50" stroke="#000" stroke-opacity="0.62" stroke-width="1"/><line x1="53.20" y1="281.7" x2="53.20" y2="288" stroke="#222" stroke-width="1"/><line x1="64.01" y1="281.7" x2="64.01" y2="288" stroke="#222" stroke-width="1"/><line x1="74.81" y1="281.7" x2="74.81" y2="288" stroke="#222" stroke-width="1"/><line x1="85.62" y1="281.7" x2="85.62" y2="288" stroke="#222" stroke-width="1"/><line x1="96.42" y1="281.7" x2="96.42" y2="288" stroke="#222" stroke-width="1"/><line x1="107.23" y1="281.7" x2="107.23" y2="288" stroke="#222" stroke-width="1"/><line x1="118.03" y1="281.7" x2="118.03" y2="288" stroke="#222" stroke-width="1"/><line x1="128.84" y1="281.7" x2="128.84" y2="288" stroke="#222" stroke-width="1"/><line x1="139.65" y1="281.7" x2="139.65" y2="288" stroke="#222" stroke-width="1"/><line x1="150.45" y1="281.7" x2="150.45" y2="288" stroke="#222" stroke-width="1"/><line x1="161.25" y1="281.7" x2="161.25" y2="288" stroke="#222" stroke-width="1"/><line x1="172.06" y1="281.7" x2="172.06" y2="288" stroke="#222" stroke-width="1"/><line x1="182.87" y1="281.7" x2="182.87" y2="288" stroke="#222" stroke-width="1"/><line x1="193.67" y1="281.7" x2="193.67" y2="288" stroke="#222" stroke-width="1"/><line x1="204.47" y1="281.7" x2="204.47" y2="288" stroke="#222" stroke-width="1"/><line x1="215.28" y1="281.7" x2="215.28" y2="288" stroke="#222" stroke-width="1"/><line x1="226.09" y1="281.7" x2="226.09" y2="288" stroke="#222" stroke-width="1"/><line x1="236.89" y1="281.7" x2="236.89" y2="288" stroke="#222" stroke-width="1"/><line x1="247.69" y1="281.7" x2="247.69" y2="288" stroke="#222" stroke-width="1"/><line x1="258.50" y1="281.7" x2="258.50" y2="288" stroke="#222" stroke-width="1"/><line x1="269.31" y1="281.7" x2="269.31" y2="288" stroke="#222" stroke-width="1"/><line x1="280.11" y1="281.7" x2="280.11" y2="288" stroke="#222" stroke-width="1"/><line x1="290.91" y1="281.7" x2="290.91" y2="288" stroke="#222" stroke-width="1"/><line x1="301.72" y1="281.7" x2="301.72" y2="288" stroke="#222" stroke-width="1"/><line x1="312.52" y1="281.7" x2="312.52" y2="288" stroke="#222" stroke-width="1"/><line x1="323.33" y1="281.7" x2="323.33" y2="288" stroke="#222" stroke-width="1"/><line x1="334.13" y1="281.7" x2="334.13" y2="288" stroke="#222" stroke-width="1"/><line x1="344.94" y1="281.7" x2="344.94" y2="288" stroke="#222" stroke-width="1"/><line x1="355.74" y1="281.7" x2="355.74" y2="288" stroke="#222" stroke-width="1"/><line x1="366.55" y1="281.7" x2="366.55" y2="288" stroke="#222" stroke-width="1"/><line x1="377.35" y1="281.7" x2="377.35" y2="288" stroke="#222" stroke-width="1"/><line x1="388.16" y1="281.7" x2="388.16" y2="288" stroke="#222" stroke-width="1"/><line x1="398.96" y1="281.7" x2="398.96" y2="288" stroke="#222" stroke-width="1"/><line x1="409.77" y1="281.7" x2="409.77" y2="288" stroke="#222" stroke-width="1"/><line x1="420.57" y1="281.7" x2="420.57" y2="288" stroke="#222" stroke-width="1"/><line x1="431.38" y1="281.7" x2="431.38" y2="288" stroke="#222" stroke-width="1"/><line x1="442.18" y1="281.7" x2="442.18" y2="288" stroke="#222" stroke-width="1"/><line x1="452.99" y1="281.7" x2="452.99" y2="288" stroke="#222" stroke-width="1"/><line x1="463.79" y1="281.7" x2="463.79" y2="288" stroke="#222" stroke-width="1"/><line x1="474.60" y1="281.7" x2="474.60" y2="288" stroke="#222" stroke-width="1"/><line x1="485.40" y1="281.7" x2="485.40" y2="288" stroke="#222" stroke-width="1"/><line x1="42.4" y1="31.2" x2="42.4" y2="288.5" stroke="#111" stroke-width="1.15"/><line x1="42" y1="287.9" x2="485.8" y2="287.9" stroke="#111" stroke-width="1.4"/><polyline points="47.9,206.9 58.7,199.0 69.5,188.4 80.3,180.0 91.2,170.8 102.0,162.7 112.8,160.4 123.6,149.0 134.4,135.0 145.2,134.5 156.0,154.0 166.9,135.0 177.7,125.3 188.5,121.6 199.3,117.9 210.1,112.5 220.9,108.4 231.8,101.9 242.6,97.2 253.4,94.2 264.2,90.7 275.0,87.3 285.8,86.1 296.6,81.0 307.5,77.3 318.3,76.5 329.1,76.5 339.9,74.0 350.7,73.0 361.5,70.7 372.3,70.7 383.2,70.1 394.0,69.1 404.8,68.0 415.6,67.3 426.4,65.9 437.2,64.3 448.1,63.8 458.9,64.0 469.7,63.3 480.5,63.5" fill="none" stroke="#1A365D" stroke-width="2.4" stroke-linejoin="round"/><circle cx="47.9" cy="206.9" r="3.6" fill="#1A365D"/><circle cx="58.7" cy="199.0" r="3.6" fill="#1A365D"/><circle cx="69.5" cy="188.4" r="3.6" fill="#1A365D"/><circle cx="80.3" cy="180.0" r="3.6" fill="#1A365D"/><circle cx="91.2" cy="170.8" r="3.6" fill="#1A365D"/><circle cx="102.0" cy="162.7" r="3.6" fill="#1A365D"/><circle cx="112.8" cy="160.4" r="3.6" fill="#1A365D"/><circle cx="123.6" cy="149.0" r="3.6" fill="#1A365D"/><circle cx="134.4" cy="135.0" r="3.6" fill="#1A365D"/><circle cx="145.2" cy="134.5" r="3.6" fill="#1A365D"/><circle cx="156.0" cy="154.0" r="3.6" fill="#1A365D"/><circle cx="166.9" cy="135.0" r="3.6" fill="#1A365D"/><circle cx="177.7" cy="125.3" r="3.6" fill="#1A365D"/><circle cx="188.5" cy="121.6" r="3.6" fill="#1A365D"/><circle cx="199.3" cy="117.9" r="3.6" fill="#1A365D"/><circle cx="210.1" cy="112.5" r="3.6" fill="#1A365D"/><circle cx="220.9" cy="108.4" r="3.6" fill="#1A365D"/><circle cx="231.8" cy="101.9" r="3.6" fill="#1A365D"/><circle cx="242.6" cy="97.2" r="3.6" fill="#1A365D"/><circle cx="253.4" cy="94.2" r="3.6" fill="#1A365D"/><circle cx="264.2" cy="90.7" r="3.6" fill="#1A365D"/><circle cx="275.0" cy="87.3" r="3.6" fill="#1A365D"/><circle cx="285.8" cy="86.1" r="3.6" fill="#1A365D"/><circle cx="296.6" cy="81.0" r="3.6" fill="#1A365D"/><circle cx="307.5" cy="77.3" r="3.6" fill="#1A365D"/><circle cx="318.3" cy="76.5" r="3.6" fill="#1A365D"/><circle cx="329.1" cy="76.5" r="3.6" fill="#1A365D"/><circle cx="339.9" cy="74.0" r="3.6" fill="#1A365D"/><circle cx="350.7" cy="73.0" r="3.6" fill="#1A365D"/><circle cx="361.5" cy="70.7" r="3.6" fill="#1A365D"/><circle cx="372.3" cy="70.7" r="3.6" fill="#1A365D"/><circle cx="383.2" cy="70.1" r="3.6" fill="#1A365D"/><circle cx="394.0" cy="69.1" r="3.6" fill="#1A365D"/><circle cx="404.8" cy="68.0" r="3.6" fill="#1A365D"/><circle cx="415.6" cy="67.3" r="3.6" fill="#1A365D"/><circle cx="426.4" cy="65.9" r="3.6" fill="#1A365D"/><circle cx="437.2" cy="64.3" r="3.6" fill="#1A365D"/><circle cx="448.1" cy="63.8" r="3.6" fill="#1A365D"/><circle cx="458.9" cy="64.0" r="3.6" fill="#1A365D"/><circle cx="469.7" cy="63.3" r="3.6" fill="#1A365D"/><circle cx="480.5" cy="63.5" r="3.6" fill="#1A365D"/><polyline points="47.9,206.9 58.7,199.0 69.5,188.4 80.3,180.0 91.2,170.8 102.0,162.7 112.8,160.4 123.6,149.0 134.4,135.0 145.2,134.5 156.0,154.0 166.9,138.7 177.7,129.3 188.5,127.4 199.3,126.0 210.1,123.2 220.9,121.6 231.8,119.3 242.6,116.5 253.4,114.2 264.2,113.1 275.0,112.3 285.8,112.3 296.6,109.2 307.5,107.3 318.3,107.1 329.1,108.9 339.9,109.2 350.7,110.7 361.5,110.7 372.3,112.2 383.2,112.5 394.0,113.3 404.8,114.2 415.6,114.6 426.4,115.0 437.2,116.1 448.1,117.2 458.9,118.6 469.7,119.1 480.5,120.3" fill="none" stroke="#E3405B" stroke-width="2.4" stroke-linejoin="round"/><circle cx="47.9" cy="206.9" r="3.6" fill="#E3405B"/><circle cx="58.7" cy="199.0" r="3.6" fill="#E3405B"/><circle cx="69.5" cy="188.4" r="3.6" fill="#E3405B"/><circle cx="80.3" cy="180.0" r="3.6" fill="#E3405B"/><circle cx="91.2" cy="170.8" r="3.6" fill="#E3405B"/><circle cx="102.0" cy="162.7" r="3.6" fill="#E3405B"/><circle cx="112.8" cy="160.4" r="3.6" fill="#E3405B"/><circle cx="123.6" cy="149.0" r="3.6" fill="#E3405B"/><circle cx="134.4" cy="135.0" r="3.6" fill="#E3405B"/><circle cx="145.2" cy="134.5" r="3.6" fill="#E3405B"/><circle cx="156.0" cy="154.0" r="3.6" fill="#E3405B"/><circle cx="166.9" cy="138.7" r="3.6" fill="#E3405B"/><circle cx="177.7" cy="129.3" r="3.6" fill="#E3405B"/><circle cx="188.5" cy="127.4" r="3.6" fill="#E3405B"/><circle cx="199.3" cy="126.0" r="3.6" fill="#E3405B"/><circle cx="210.1" cy="123.2" r="3.6" fill="#E3405B"/><circle cx="220.9" cy="121.6" r="3.6" fill="#E3405B"/><circle cx="231.8" cy="119.3" r="3.6" fill="#E3405B"/><circle cx="242.6" cy="116.5" r="3.6" fill="#E3405B"/><circle cx="253.4" cy="114.2" r="3.6" fill="#E3405B"/><circle cx="264.2" cy="113.1" r="3.6" fill="#E3405B"/><circle cx="275.0" cy="112.3" r="3.6" fill="#E3405B"/><circle cx="285.8" cy="112.3" r="3.6" fill="#E3405B"/><circle cx="296.6" cy="109.2" r="3.6" fill="#E3405B"/><circle cx="307.5" cy="107.3" r="3.6" fill="#E3405B"/><circle cx="318.3" cy="107.1" r="3.6" fill="#E3405B"/><circle cx="329.1" cy="108.9" r="3.6" fill="#E3405B"/><circle cx="339.9" cy="109.2" r="3.6" fill="#E3405B"/><circle cx="350.7" cy="110.7" r="3.6" fill="#E3405B"/><circle cx="361.5" cy="110.7" r="3.6" fill="#E3405B"/><circle cx="372.3" cy="112.2" r="3.6" fill="#E3405B"/><circle cx="383.2" cy="112.5" r="3.6" fill="#E3405B"/><circle cx="394.0" cy="113.3" r="3.6" fill="#E3405B"/><circle cx="404.8" cy="114.2" r="3.6" fill="#E3405B"/><circle cx="415.6" cy="114.6" r="3.6" fill="#E3405B"/><circle cx="426.4" cy="115.0" r="3.6" fill="#E3405B"/><circle cx="437.2" cy="116.1" r="3.6" fill="#E3405B"/><circle cx="448.1" cy="117.2" r="3.6" fill="#E3405B"/><circle cx="458.9" cy="118.6" r="3.6" fill="#E3405B"/><circle cx="469.7" cy="119.1" r="3.6" fill="#E3405B"/><circle cx="480.5" cy="120.3" r="3.6" fill="#E3405B"/><rect x="570" y="44.3" width="15" height="12.6" fill="#E87722"/><rect x="570" y="65.4" width="15" height="12.6" fill="#7A1A34"/><rect x="570" y="86.5" width="15" height="12.6" fill="#1E7034"/><rect x="570" y="107.7" width="15" height="12.6" fill="#E5435F"/><rect x="570" y="128.9" width="15" height="12.6" fill="#FBBA3F"/><rect x="570" y="150.0" width="15" height="12.6" fill="#AE4489"/><rect x="802.3" y="44.7" width="14.8" height="12" fill="url(#dots2)"/><rect x="802.3" y="65.5" width="14.8" height="12.4" fill="url(#hatch)"/><rect x="802.3" y="86.5" width="14.8" height="12.3" fill="#4CADDE"/><rect x="802.3" y="126" width="14.8" height="12.9" fill="#EAF4FC"/><rect x="802.3" y="126" width="3.8" height="12.9" fill="#3D5888"/><rect x="813.6" y="126" width="3.5" height="12.9" fill="#3D5888"/><line x1="569" y1="192.9" x2="586" y2="192.9" stroke="#E3405B" stroke-width="2.2"/><circle cx="577.3" cy="192.9" r="3.5" fill="#E3405B"/><line x1="569" y1="251.3" x2="586" y2="251.3" stroke="#1A365D" stroke-width="2.2"/><circle cx="577.3" cy="251.3" r="3.5" fill="#1A365D"/><g font-family="Liberation Sans, sans-serif" fill="#000"><text x="9.2" y="11.1" font-size="13.2" letter-spacing="0.55">MMb/d</text><text x="471" y="23" text-anchor="start" font-weight="normal" font-size="13.2">10<tspan font-size="7.6" dy="-4.2">3</tspan><tspan dy="4.2">m</tspan><tspan font-size="7.6" dy="-4.2">3</tspan><tspan dy="4.2">/d</tspan></text><text x="35.0" y="292.1" text-anchor="end" font-weight="normal" font-size="13.2">0</text><text x="35.0" y="255.48000000000002" text-anchor="end" font-weight="normal" font-size="13.2">1</text><text x="35.0" y="218.86" text-anchor="end" font-weight="normal" font-size="13.2">2</text><text x="35.0" y="182.24000000000004" text-anchor="end" font-weight="normal" font-size="13.2">3</text><text x="35.0" y="145.62000000000003" text-anchor="end" font-weight="normal" font-size="13.2">4</text><text x="35.0" y="109.00000000000001" text-anchor="end" font-weight="normal" font-size="13.2">5</text><text x="35.0" y="72.38000000000004" text-anchor="end" font-weight="normal" font-size="13.2">6</text><text x="35.0" y="35.76000000000003" text-anchor="end" font-weight="normal" font-size="13.2">7</text><text x="487.2" y="290.8" text-anchor="start" font-weight="normal" font-size="13.2">0</text><text x="487.2" y="244.62" text-anchor="start" font-weight="normal" font-size="13.2">200</text><text x="487.2" y="198.44" text-anchor="start" font-weight="normal" font-size="13.2">400</text><text x="487.2" y="152.26000000000002" text-anchor="start" font-weight="normal" font-size="13.2">600</text><text x="487.2" y="106.08000000000001" text-anchor="start" font-weight="normal" font-size="13.2">800</text><text x="487.2" y="59.900000000000006" text-anchor="start" font-weight="normal" font-size="13.2">1000</text><text x="47.9" y="306.8" text-anchor="middle" font-weight="normal" font-size="13.2">2010</text><text x="101.975" y="306.8" text-anchor="middle" font-weight="normal" font-size="13.2">2015</text><text x="156.04999999999998" y="306.8" text-anchor="middle" font-weight="normal" font-size="13.2">2020</text><text x="210.125" y="306.8" text-anchor="middle" font-weight="normal" font-size="13.2">2025</text><text x="264.2" y="306.8" text-anchor="middle" font-weight="normal" font-size="13.2">2030</text><text x="318.275" y="306.8" text-anchor="middle" font-weight="normal" font-size="13.2">2035</text><text x="372.34999999999997" y="306.8" text-anchor="middle" font-weight="normal" font-size="13.2">2040</text><text x="426.42499999999995" y="306.8" text-anchor="middle" font-weight="normal" font-size="13.2">2045</text><text x="480.49999999999994" y="306.8" text-anchor="middle" font-weight="normal" font-size="13.2">2050</text><text x="571" y="29.1" text-anchor="start" font-weight="bold" font-size="13.2">Existing Pipeline Capacity</text><text x="595.1" y="55.8" text-anchor="start" font-weight="normal" font-size="13.2">Enbridge Mainline</text><text x="595.1" y="77.0" text-anchor="start" font-weight="normal" font-size="13.2">Keystone</text><text x="595.1" y="98.1" text-anchor="start" font-weight="normal" font-size="13.2">TransMountain</text><text x="595.1" y="119.3" text-anchor="start" font-weight="normal" font-size="13.2">Aurora/Rangeland</text><text x="595.1" y="140.4" text-anchor="start" font-weight="normal" font-size="13.2">Milk River</text><text x="595.1" y="161.6" text-anchor="start" font-weight="normal" font-size="13.2">Express</text><text x="595.1" y="198" text-anchor="start" font-weight="normal" font-size="13.2">Total Supply Available</text><text x="595.1" y="214" text-anchor="start" font-weight="normal" font-size="13.2">for Export -</text><text x="595.1" y="230" text-anchor="start" font-weight="normal" font-size="13.2">Evolving Scenario</text><text x="595.1" y="256.7" text-anchor="start" font-weight="normal" font-size="13.2">Total Supply Available</text><text x="595.1" y="272.6" text-anchor="start" font-weight="normal" font-size="13.2">for Export -</text><text x="595.1" y="288.4" text-anchor="start" font-weight="normal" font-size="13.2">Reference Scenario</text><text x="802.9" y="29.1" text-anchor="start" font-weight="bold" font-size="13.2">Capacity Additions</text><text x="829.2" y="55.8" text-anchor="start" font-weight="normal" font-size="13.2">Keystone XL (2023)</text><text x="829.2" y="76.8" text-anchor="start" font-weight="normal" font-size="13.2">TMX (2022)</text><text x="829.2" y="97.8" text-anchor="start" font-weight="normal" font-size="13.2">Enbridge Line 3 (2019)</text><text x="829.2" y="137.7" text-anchor="start" font-weight="normal" font-size="13.2">Rail</text></g></svg>
</body></html>
